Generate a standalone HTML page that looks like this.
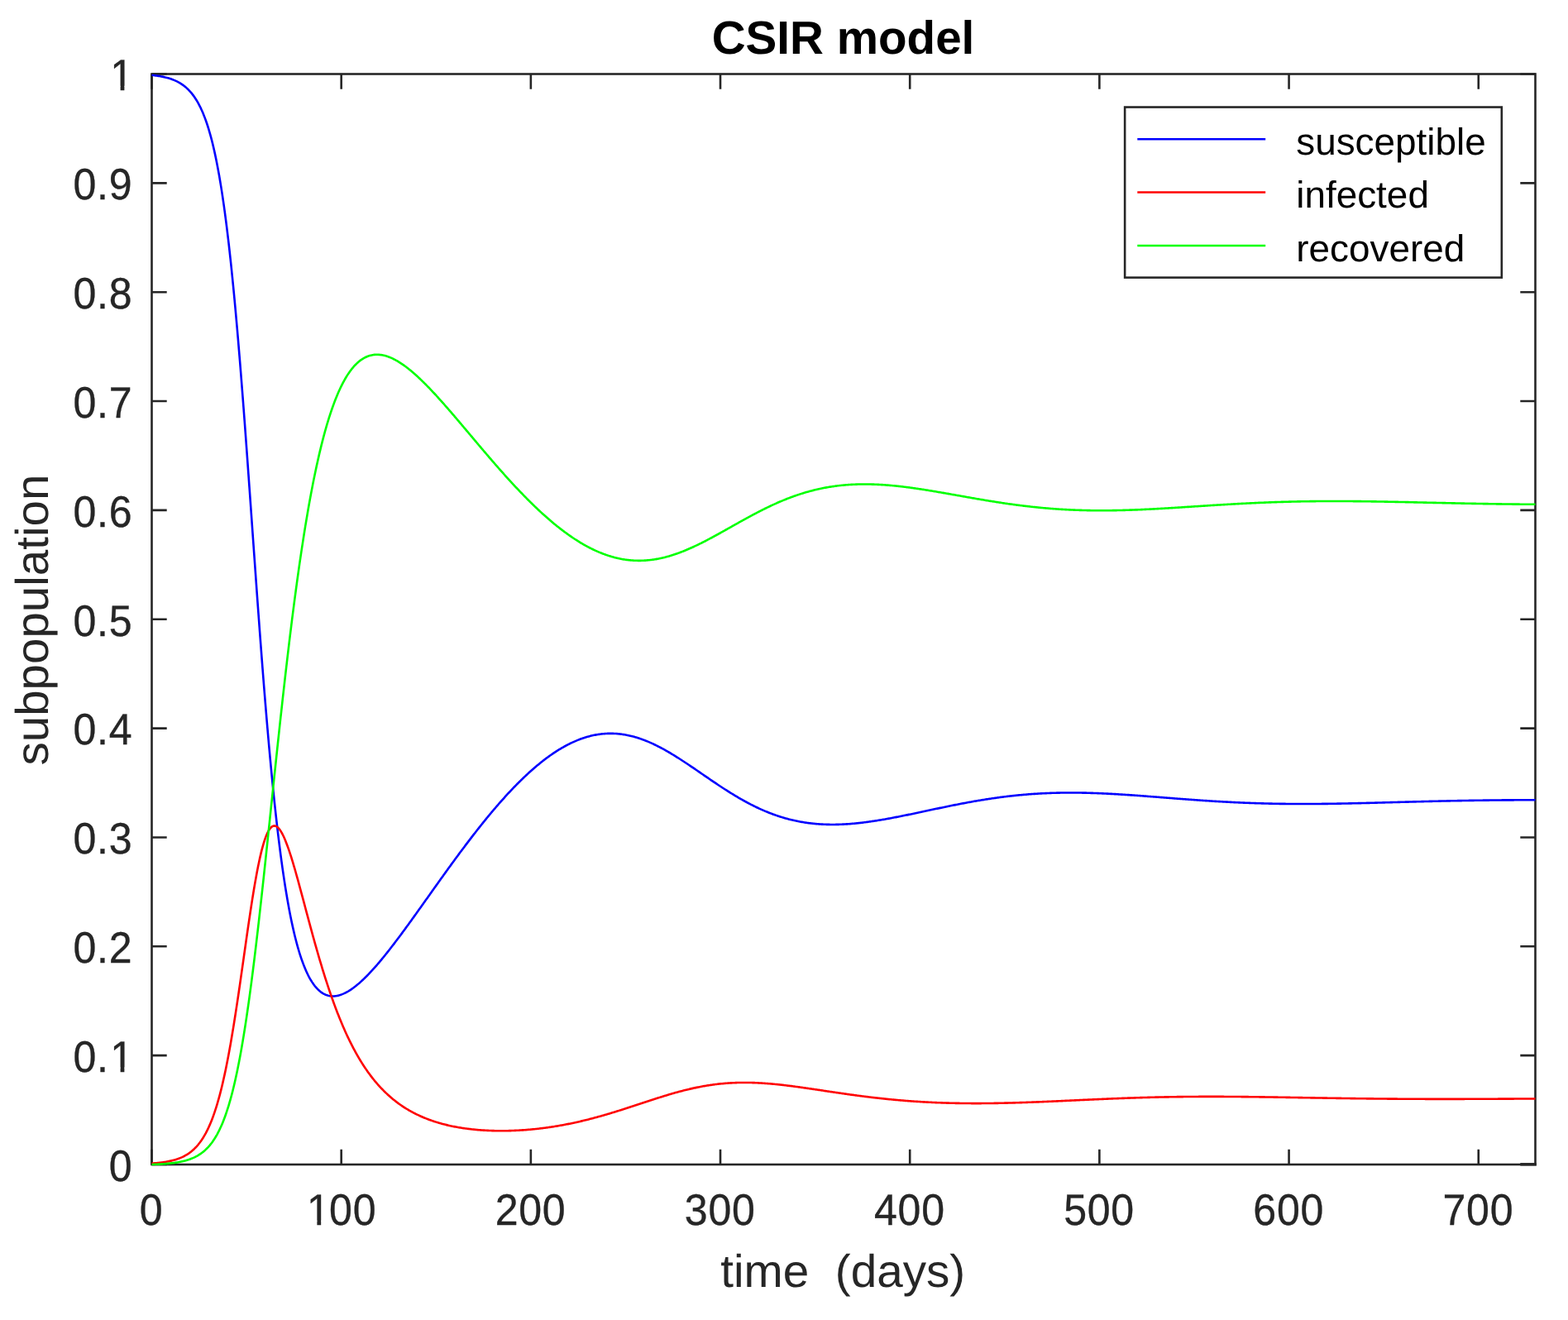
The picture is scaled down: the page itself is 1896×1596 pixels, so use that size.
<!DOCTYPE html>
<html lang="en"><head><meta charset="utf-8"><title>CSIR model</title>
<style>html,body{margin:0;padding:0;background:#fff;}body{width:1896px;height:1596px;overflow:hidden;}svg{display:block;}text{font-family:"Liberation Sans",Arial,Helvetica,sans-serif;text-rendering:geometricPrecision;}</style>
</head><body>
<svg xmlns="http://www.w3.org/2000/svg" width="1896" height="1596" viewBox="0 0 1896 1596">
<rect width="1896" height="1596" fill="#fff"/>
<g stroke="#262626" stroke-width="2.60" fill="none" stroke-linecap="butt">
<rect x="183.50" y="89.50" width="1673.00" height="1318.50"/>
<path stroke-width="2.60" d="M412.68,1408.00v-18.20 M412.68,89.50v18.20 M641.86,1408.00v-18.20 M641.86,89.50v18.20 M871.03,1408.00v-18.20 M871.03,89.50v18.20 M1100.21,1408.00v-18.20 M1100.21,89.50v18.20 M1329.39,1408.00v-18.20 M1329.39,89.50v18.20 M1558.57,1408.00v-18.20 M1558.57,89.50v18.20 M1787.75,1408.00v-18.20 M1787.75,89.50v18.20 M183.50,1276.15h18.20 M1856.50,1276.15h-18.20 M183.50,1144.30h18.20 M1856.50,1144.30h-18.20 M183.50,1012.45h18.20 M1856.50,1012.45h-18.20 M183.50,880.60h18.20 M1856.50,880.60h-18.20 M183.50,748.75h18.20 M1856.50,748.75h-18.20 M183.50,616.90h18.20 M1856.50,616.90h-18.20 M183.50,485.05h18.20 M1856.50,485.05h-18.20 M183.50,353.20h18.20 M1856.50,353.20h-18.20 M183.50,221.35h18.20 M1856.50,221.35h-18.20 M183.50,1408.00v-18.20 M183.50,89.50v18.20 M183.50,89.50h18.20 M1856.50,89.50h-18.20 M183.50,1408.00h18.20"/>
<path stroke-width="3.50" d="M1857.80,1407.80h-19.50"/>
</g>
<defs><clipPath id="c"><rect x="182.90" y="87.50" width="1674.20" height="1322.50"/></clipPath></defs>
<g fill="none" stroke-width="2.60" stroke-linejoin="round" clip-path="url(#c)">
<path stroke="#0000ff" d="M183.50,90.82 L184.65,90.94 L185.79,91.07 L186.94,91.21 L188.08,91.35 L189.23,91.51 L190.38,91.67 L191.52,91.85 L192.67,92.03 L193.81,92.23 L194.96,92.43 L196.10,92.65 L197.25,92.89 L198.40,93.14 L199.54,93.40 L200.69,93.68 L201.83,93.97 L202.98,94.29 L204.13,94.62 L205.27,94.97 L206.42,95.35 L207.56,95.75 L208.71,96.17 L209.86,96.62 L211.00,97.09 L212.15,97.59 L213.29,98.13 L214.44,98.69 L215.58,99.29 L216.73,99.93 L217.88,100.61 L219.02,101.32 L220.17,102.08 L221.31,102.89 L222.46,103.74 L223.61,104.64 L224.75,105.60 L225.90,106.62 L227.04,107.69 L228.19,108.83 L229.34,110.04 L230.48,111.32 L231.63,112.67 L232.77,114.11 L233.92,115.63 L235.07,117.24 L236.21,118.94 L237.36,120.74 L238.50,122.64 L239.65,124.66 L240.79,126.79 L241.94,129.04 L243.09,131.42 L244.23,133.94 L245.38,136.60 L246.52,139.40 L247.67,142.37 L248.82,145.49 L249.96,148.79 L251.11,152.27 L252.25,155.94 L253.40,159.80 L254.55,163.87 L255.69,168.16 L256.84,172.67 L257.98,177.41 L259.13,182.40 L260.27,187.63 L261.42,193.13 L262.57,198.90 L263.71,204.95 L264.86,211.29 L266.00,217.93 L267.15,224.88 L268.30,232.14 L269.44,239.73 L270.59,247.65 L271.73,255.91 L272.88,264.52 L274.03,273.48 L275.17,282.79 L276.32,292.47 L277.46,302.51 L278.61,312.91 L279.75,323.69 L280.90,334.83 L282.05,346.34 L283.19,358.21 L284.34,370.43 L285.48,383.01 L286.63,395.93 L287.78,409.19 L288.92,422.77 L290.07,436.66 L291.21,450.85 L292.36,465.31 L293.51,480.05 L294.65,495.02 L295.80,510.22 L296.94,525.63 L298.09,541.21 L299.23,556.95 L300.38,572.82 L301.53,588.80 L302.67,604.86 L303.82,620.98 L304.96,637.12 L306.11,653.27 L307.26,669.38 L308.40,685.45 L309.55,701.44 L310.69,717.33 L311.84,733.10 L312.99,748.72 L314.13,764.16 L315.28,779.41 L316.42,794.46 L317.57,809.27 L318.72,823.84 L319.86,838.15 L321.01,852.18 L322.15,865.92 L323.30,879.36 L324.44,892.50 L325.59,905.32 L326.74,917.82 L327.88,929.99 L329.03,941.83 L330.17,953.33 L331.32,964.50 L332.47,975.33 L333.61,985.82 L334.76,995.98 L335.90,1005.81 L337.05,1015.31 L338.20,1024.48 L339.34,1033.33 L340.49,1041.87 L341.63,1050.09 L342.78,1058.01 L343.92,1065.63 L345.07,1072.96 L346.22,1080.00 L347.36,1086.76 L348.51,1093.26 L349.65,1099.48 L350.80,1105.45 L351.95,1111.17 L353.09,1116.64 L354.24,1121.88 L355.38,1126.89 L356.53,1131.68 L357.68,1136.25 L358.82,1140.61 L359.97,1144.78 L361.11,1148.74 L362.26,1152.52 L363.40,1156.12 L364.55,1159.54 L365.70,1162.79 L366.84,1165.88 L367.99,1168.81 L369.13,1171.58 L370.28,1174.21 L371.43,1176.69 L372.57,1179.04 L373.72,1181.26 L374.86,1183.34 L376.01,1185.30 L377.16,1187.15 L378.30,1188.87 L379.45,1190.49 L380.59,1192.00 L381.74,1193.40 L382.88,1194.71 L384.03,1195.91 L385.18,1197.03 L386.32,1198.05 L387.47,1198.99 L388.61,1199.84 L389.76,1200.62 L390.91,1201.31 L392.05,1201.93 L393.20,1202.47 L394.34,1202.94 L395.49,1203.35 L396.64,1203.69 L397.78,1203.96 L398.93,1204.18 L400.07,1204.33 L401.22,1204.42 L402.37,1204.46 L403.51,1204.45 L404.66,1204.38 L405.80,1204.26 L406.95,1204.09 L408.09,1203.88 L409.24,1203.62 L410.39,1203.31 L411.53,1202.96 L412.68,1202.57 L413.82,1202.14 L414.97,1201.67 L416.12,1201.16 L417.26,1200.61 L418.41,1200.03 L419.55,1199.41 L420.70,1198.76 L421.85,1198.07 L422.99,1197.35 L424.14,1196.61 L425.28,1195.83 L426.43,1195.02 L427.57,1194.19 L428.72,1193.33 L429.87,1192.44 L431.01,1191.53 L432.16,1190.59 L433.30,1189.63 L434.45,1188.64 L435.60,1187.63 L436.74,1186.60 L437.89,1185.54 L439.03,1184.47 L440.18,1183.38 L441.33,1182.26 L442.47,1181.13 L443.62,1179.98 L444.76,1178.81 L445.91,1177.62 L447.05,1176.42 L448.20,1175.20 L449.35,1173.96 L450.49,1172.71 L451.64,1171.44 L452.78,1170.16 L453.93,1168.86 L455.08,1167.56 L456.22,1166.23 L457.37,1164.90 L458.51,1163.55 L459.66,1162.19 L460.81,1160.82 L461.95,1159.44 L463.10,1158.04 L464.24,1156.64 L465.39,1155.23 L466.53,1153.80 L467.68,1152.37 L468.83,1150.92 L469.97,1149.47 L471.12,1148.01 L472.26,1146.54 L473.41,1145.07 L474.56,1143.58 L475.70,1142.09 L476.85,1140.59 L477.99,1139.08 L479.14,1137.57 L480.29,1136.05 L481.43,1134.53 L482.58,1132.99 L483.72,1131.46 L484.87,1129.92 L486.02,1128.37 L487.16,1126.82 L488.31,1125.26 L489.45,1123.70 L490.60,1122.13 L491.74,1120.56 L492.89,1118.99 L494.04,1117.41 L495.18,1115.83 L496.33,1114.24 L497.47,1112.66 L498.62,1111.07 L499.77,1109.47 L500.91,1107.88 L502.06,1106.28 L503.20,1104.68 L504.35,1103.08 L505.50,1101.48 L506.64,1099.87 L507.79,1098.26 L508.93,1096.66 L510.08,1095.05 L511.22,1093.44 L512.37,1091.83 L513.52,1090.21 L514.66,1088.60 L515.81,1086.99 L516.95,1085.38 L518.10,1083.76 L519.25,1082.15 L520.39,1080.54 L521.54,1078.93 L522.68,1077.31 L523.83,1075.70 L524.98,1074.09 L526.12,1072.48 L527.27,1070.88 L528.41,1069.27 L529.56,1067.66 L530.70,1066.06 L531.85,1064.45 L533.00,1062.85 L534.14,1061.25 L535.29,1059.65 L536.43,1058.06 L537.58,1056.46 L538.73,1054.87 L539.87,1053.28 L541.02,1051.70 L542.16,1050.11 L543.31,1048.53 L544.46,1046.95 L545.60,1045.37 L546.75,1043.80 L547.89,1042.23 L549.04,1040.66 L550.18,1039.10 L551.33,1037.54 L552.48,1035.98 L553.62,1034.43 L554.77,1032.88 L555.91,1031.33 L557.06,1029.79 L558.21,1028.25 L559.35,1026.72 L560.50,1025.19 L561.64,1023.66 L562.79,1022.14 L563.94,1020.62 L565.08,1019.11 L566.23,1017.60 L567.37,1016.10 L568.52,1014.60 L569.67,1013.10 L570.81,1011.61 L571.96,1010.13 L573.10,1008.65 L574.25,1007.18 L575.39,1005.71 L576.54,1004.25 L577.69,1002.79 L578.83,1001.34 L579.98,999.89 L581.12,998.45 L582.27,997.01 L583.42,995.58 L584.56,994.16 L585.71,992.74 L586.85,991.33 L588.00,989.93 L589.15,988.53 L590.29,987.13 L591.44,985.75 L592.58,984.37 L593.73,983.00 L594.87,981.63 L596.02,980.27 L597.17,978.92 L598.31,977.57 L599.46,976.23 L600.60,974.90 L601.75,973.57 L602.90,972.26 L604.04,970.95 L605.19,969.64 L606.33,968.35 L607.48,967.06 L608.63,965.78 L609.77,964.51 L610.92,963.24 L612.06,961.98 L613.21,960.73 L614.35,959.49 L615.50,958.26 L616.65,957.03 L617.79,955.81 L618.94,954.60 L620.08,953.40 L621.23,952.21 L622.38,951.03 L623.52,949.85 L624.67,948.68 L625.81,947.52 L626.96,946.38 L628.11,945.23 L629.25,944.10 L630.40,942.98 L631.54,941.87 L632.69,940.76 L633.83,939.66 L634.98,938.58 L636.13,937.50 L637.27,936.43 L638.42,935.37 L639.56,934.33 L640.71,933.29 L641.86,932.26 L643.00,931.24 L644.15,930.23 L645.29,929.23 L646.44,928.24 L647.59,927.26 L648.73,926.29 L649.88,925.33 L651.02,924.38 L652.17,923.44 L653.32,922.51 L654.46,921.59 L655.61,920.69 L656.75,919.79 L657.90,918.90 L659.04,918.03 L660.19,917.16 L661.34,916.31 L662.48,915.47 L663.63,914.63 L664.77,913.81 L665.92,913.00 L667.07,912.20 L668.21,911.42 L669.36,910.64 L670.50,909.88 L671.65,909.12 L672.80,908.38 L673.94,907.65 L675.09,906.93 L676.23,906.23 L677.38,905.53 L678.52,904.85 L679.67,904.18 L680.82,903.52 L681.96,902.87 L683.11,902.24 L684.25,901.61 L685.40,901.00 L686.55,900.41 L687.69,899.82 L688.84,899.25 L689.98,898.68 L691.13,898.14 L692.28,897.60 L693.42,897.08 L694.57,896.57 L695.71,896.07 L696.86,895.58 L698.00,895.11 L699.15,894.65 L700.30,894.20 L701.44,893.77 L702.59,893.34 L703.73,892.94 L704.88,892.54 L706.03,892.16 L707.17,891.79 L708.32,891.43 L709.46,891.09 L710.61,890.76 L711.76,890.44 L712.90,890.14 L714.05,889.85 L715.19,889.57 L716.34,889.31 L717.48,889.06 L718.63,888.82 L719.78,888.60 L720.92,888.39 L722.07,888.19 L723.21,888.01 L724.36,887.84 L725.51,887.68 L726.65,887.54 L727.80,887.41 L728.94,887.29 L730.09,887.19 L731.24,887.10 L732.38,887.02 L733.53,886.96 L734.67,886.91 L735.82,886.88 L736.97,886.85 L738.11,886.84 L739.26,886.85 L740.40,886.87 L741.55,886.90 L742.69,886.94 L743.84,887.00 L744.99,887.07 L746.13,887.15 L747.28,887.25 L748.42,887.36 L749.57,887.48 L750.72,887.62 L751.86,887.77 L753.01,887.93 L754.15,888.10 L755.30,888.29 L756.45,888.49 L757.59,888.70 L758.74,888.93 L759.88,889.17 L761.03,889.42 L762.17,889.68 L763.32,889.96 L764.47,890.24 L765.61,890.54 L766.76,890.85 L767.90,891.18 L769.05,891.51 L770.20,891.86 L771.34,892.22 L772.49,892.59 L773.63,892.97 L774.78,893.36 L775.93,893.76 L777.07,894.18 L778.22,894.61 L779.36,895.04 L780.51,895.49 L781.65,895.95 L782.80,896.42 L783.95,896.90 L785.09,897.38 L786.24,897.88 L787.38,898.39 L788.53,898.91 L789.68,899.44 L790.82,899.98 L791.97,900.53 L793.11,901.08 L794.26,901.65 L795.41,902.22 L796.55,902.81 L797.70,903.40 L798.84,904.00 L799.99,904.61 L801.13,905.23 L802.28,905.85 L803.43,906.48 L804.57,907.12 L805.72,907.77 L806.86,908.42 L808.01,909.09 L809.16,909.75 L810.30,910.43 L811.45,911.11 L812.59,911.80 L813.74,912.49 L814.89,913.19 L816.03,913.90 L817.18,914.61 L818.32,915.33 L819.47,916.05 L820.62,916.77 L821.76,917.51 L822.91,918.24 L824.05,918.98 L825.20,919.73 L826.34,920.48 L827.49,921.23 L828.64,921.98 L829.78,922.74 L830.93,923.51 L832.07,924.27 L833.22,925.04 L834.37,925.81 L835.51,926.58 L836.66,927.36 L837.80,928.14 L838.95,928.92 L840.10,929.70 L841.24,930.48 L842.39,931.27 L843.53,932.05 L844.68,932.84 L845.82,933.62 L846.97,934.41 L848.12,935.20 L849.26,935.99 L850.41,936.77 L851.55,937.56 L852.70,938.35 L853.85,939.13 L854.99,939.92 L856.14,940.70 L857.28,941.49 L858.43,942.27 L859.58,943.05 L860.72,943.83 L861.87,944.61 L863.01,945.38 L864.16,946.15 L865.30,946.92 L866.45,947.69 L867.60,948.46 L868.74,949.22 L869.89,949.98 L871.03,950.74 L872.18,951.49 L873.33,952.24 L874.47,952.99 L875.62,953.73 L876.76,954.47 L877.91,955.20 L879.06,955.93 L880.20,956.66 L881.35,957.38 L882.49,958.10 L883.64,958.81 L884.78,959.52 L885.93,960.23 L887.08,960.93 L888.22,961.62 L889.37,962.31 L890.51,962.99 L891.66,963.67 L892.81,964.34 L893.95,965.01 L895.10,965.67 L896.24,966.32 L897.39,966.97 L898.54,967.62 L899.68,968.25 L900.83,968.89 L901.97,969.51 L903.12,970.13 L904.27,970.74 L905.41,971.35 L906.56,971.95 L907.70,972.54 L908.85,973.13 L909.99,973.71 L911.14,974.28 L912.29,974.84 L913.43,975.40 L914.58,975.96 L915.72,976.50 L916.87,977.04 L918.02,977.57 L919.16,978.09 L920.31,978.61 L921.45,979.12 L922.60,979.62 L923.75,980.12 L924.89,980.61 L926.04,981.09 L927.18,981.56 L928.33,982.02 L929.47,982.48 L930.62,982.93 L931.77,983.38 L932.91,983.81 L934.06,984.24 L935.20,984.66 L936.35,985.08 L937.50,985.48 L938.64,985.88 L939.79,986.28 L940.93,986.66 L942.08,987.04 L943.23,987.41 L944.37,987.77 L945.52,988.12 L946.66,988.47 L947.81,988.81 L948.95,989.14 L950.10,989.46 L951.25,989.78 L952.39,990.09 L953.54,990.39 L954.68,990.69 L955.83,990.98 L956.98,991.26 L958.12,991.53 L959.27,991.80 L960.41,992.06 L961.56,992.31 L962.71,992.55 L963.85,992.79 L965.00,993.02 L966.14,993.24 L967.29,993.46 L968.43,993.67 L969.58,993.87 L970.73,994.07 L971.87,994.26 L973.02,994.44 L974.16,994.61 L975.31,994.78 L976.46,994.94 L977.60,995.10 L978.75,995.25 L979.89,995.39 L981.04,995.52 L982.19,995.65 L983.33,995.77 L984.48,995.89 L985.62,996.00 L986.77,996.10 L987.92,996.20 L989.06,996.29 L990.21,996.38 L991.35,996.45 L992.50,996.53 L993.64,996.59 L994.79,996.65 L995.94,996.71 L997.08,996.76 L998.23,996.80 L999.37,996.84 L1000.52,996.87 L1001.67,996.90 L1002.81,996.92 L1003.96,996.93 L1005.10,996.94 L1006.25,996.95 L1007.40,996.95 L1008.54,996.94 L1009.69,996.93 L1010.83,996.91 L1011.98,996.89 L1013.12,996.87 L1014.27,996.83 L1015.42,996.80 L1016.56,996.76 L1017.71,996.71 L1018.85,996.66 L1020.00,996.61 L1021.15,996.55 L1022.29,996.48 L1023.44,996.41 L1024.58,996.34 L1025.73,996.26 L1026.88,996.18 L1028.02,996.09 L1029.17,996.00 L1030.31,995.91 L1031.46,995.81 L1032.60,995.71 L1033.75,995.60 L1034.90,995.49 L1036.04,995.38 L1037.19,995.26 L1038.33,995.14 L1039.48,995.01 L1040.63,994.88 L1041.77,994.75 L1042.92,994.61 L1044.06,994.47 L1045.21,994.33 L1046.36,994.19 L1047.50,994.04 L1048.65,993.88 L1049.79,993.73 L1050.94,993.57 L1052.08,993.41 L1053.23,993.24 L1054.38,993.08 L1055.52,992.91 L1056.67,992.73 L1057.81,992.56 L1058.96,992.38 L1060.11,992.20 L1061.25,992.02 L1062.40,991.83 L1063.54,991.64 L1064.69,991.45 L1065.84,991.26 L1066.98,991.06 L1068.13,990.87 L1069.27,990.67 L1070.42,990.46 L1071.57,990.26 L1072.71,990.05 L1073.86,989.85 L1075.00,989.64 L1076.15,989.43 L1077.29,989.21 L1078.44,989.00 L1079.59,988.78 L1080.73,988.56 L1081.88,988.34 L1083.02,988.12 L1084.17,987.90 L1085.32,987.68 L1086.46,987.45 L1087.61,987.22 L1088.75,987.00 L1089.90,986.77 L1091.05,986.54 L1092.19,986.30 L1093.34,986.07 L1094.48,985.84 L1095.63,985.60 L1096.77,985.37 L1097.92,985.13 L1099.07,984.89 L1100.21,984.66 L1101.36,984.42 L1102.50,984.18 L1103.65,983.94 L1104.80,983.70 L1105.94,983.46 L1107.09,983.21 L1108.23,982.97 L1109.38,982.73 L1110.53,982.49 L1111.67,982.24 L1112.82,982.00 L1113.96,981.76 L1115.11,981.51 L1116.25,981.27 L1117.40,981.02 L1118.55,980.78 L1119.69,980.53 L1120.84,980.29 L1121.98,980.04 L1123.13,979.80 L1124.28,979.56 L1125.42,979.31 L1126.57,979.07 L1127.71,978.82 L1128.86,978.58 L1130.01,978.34 L1131.15,978.09 L1132.30,977.85 L1133.44,977.61 L1134.59,977.37 L1135.73,977.13 L1136.88,976.89 L1138.03,976.65 L1139.17,976.41 L1140.32,976.17 L1141.46,975.93 L1142.61,975.69 L1143.76,975.46 L1144.90,975.22 L1146.05,974.99 L1147.19,974.75 L1148.34,974.52 L1149.49,974.29 L1150.63,974.05 L1151.78,973.82 L1152.92,973.59 L1154.07,973.37 L1155.22,973.14 L1156.36,972.91 L1157.51,972.69 L1158.65,972.46 L1159.80,972.24 L1160.94,972.02 L1162.09,971.80 L1163.24,971.58 L1164.38,971.36 L1165.53,971.14 L1166.67,970.92 L1167.82,970.71 L1168.97,970.50 L1170.11,970.29 L1171.26,970.07 L1172.40,969.87 L1173.55,969.66 L1174.70,969.45 L1175.84,969.25 L1176.99,969.05 L1178.13,968.84 L1179.28,968.64 L1180.42,968.45 L1181.57,968.25 L1182.72,968.05 L1183.86,967.86 L1185.01,967.67 L1186.15,967.48 L1187.30,967.29 L1188.45,967.10 L1189.59,966.92 L1190.74,966.74 L1191.88,966.55 L1193.03,966.37 L1194.18,966.20 L1195.32,966.02 L1196.47,965.85 L1197.61,965.67 L1198.76,965.50 L1199.90,965.33 L1201.05,965.17 L1202.20,965.00 L1203.34,964.84 L1204.49,964.68 L1205.63,964.52 L1206.78,964.36 L1207.93,964.21 L1209.07,964.05 L1210.22,963.90 L1211.36,963.75 L1212.51,963.61 L1213.66,963.46 L1214.80,963.32 L1215.95,963.18 L1217.09,963.04 L1218.24,962.90 L1219.38,962.76 L1220.53,962.63 L1221.68,962.50 L1222.82,962.37 L1223.97,962.24 L1225.11,962.12 L1226.26,962.00 L1227.41,961.88 L1228.55,961.76 L1229.70,961.64 L1230.84,961.53 L1231.99,961.41 L1233.14,961.30 L1234.28,961.20 L1235.43,961.09 L1236.57,960.99 L1237.72,960.89 L1238.87,960.79 L1240.01,960.69 L1241.16,960.59 L1242.30,960.50 L1243.45,960.41 L1244.59,960.32 L1245.74,960.23 L1246.89,960.15 L1248.03,960.07 L1249.18,959.99 L1250.32,959.91 L1251.47,959.83 L1252.62,959.76 L1253.76,959.69 L1254.91,959.62 L1256.05,959.55 L1257.20,959.48 L1258.35,959.42 L1259.49,959.36 L1260.64,959.30 L1261.78,959.24 L1262.93,959.19 L1264.07,959.13 L1265.22,959.08 L1266.37,959.03 L1267.51,958.99 L1268.66,958.94 L1269.80,958.90 L1270.95,958.86 L1272.10,958.82 L1273.24,958.78 L1274.39,958.75 L1275.53,958.71 L1276.68,958.68 L1277.83,958.65 L1278.97,958.63 L1280.12,958.60 L1281.26,958.58 L1282.41,958.56 L1283.55,958.54 L1284.70,958.52 L1285.85,958.51 L1286.99,958.49 L1288.14,958.48 L1289.28,958.47 L1290.43,958.46 L1291.58,958.46 L1292.72,958.45 L1293.87,958.45 L1295.01,958.45 L1296.16,958.45 L1297.31,958.45 L1298.45,958.46 L1299.60,958.47 L1300.74,958.47 L1301.89,958.48 L1303.03,958.50 L1304.18,958.51 L1305.33,958.52 L1306.47,958.54 L1307.62,958.56 L1308.76,958.58 L1309.91,958.60 L1311.06,958.62 L1312.20,958.65 L1313.35,958.67 L1314.49,958.70 L1315.64,958.73 L1316.79,958.76 L1317.93,958.79 L1319.08,958.83 L1320.22,958.86 L1321.37,958.90 L1322.52,958.94 L1323.66,958.98 L1324.81,959.02 L1325.95,959.06 L1327.10,959.10 L1328.24,959.15 L1329.39,959.19 L1330.54,959.24 L1331.68,959.29 L1332.83,959.34 L1333.97,959.39 L1335.12,959.44 L1336.27,959.50 L1337.41,959.55 L1338.56,959.61 L1339.70,959.67 L1340.85,959.72 L1342.00,959.78 L1343.14,959.84 L1344.29,959.91 L1345.43,959.97 L1346.58,960.03 L1347.72,960.10 L1348.87,960.16 L1350.02,960.23 L1351.16,960.30 L1352.31,960.36 L1353.45,960.43 L1354.60,960.50 L1355.75,960.58 L1356.89,960.65 L1358.04,960.72 L1359.18,960.79 L1360.33,960.87 L1361.48,960.94 L1362.62,961.02 L1363.77,961.10 L1364.91,961.17 L1366.06,961.25 L1367.20,961.33 L1368.35,961.41 L1369.50,961.49 L1370.64,961.57 L1371.79,961.65 L1372.93,961.73 L1374.08,961.82 L1375.23,961.90 L1376.37,961.98 L1377.52,962.07 L1378.66,962.15 L1379.81,962.23 L1380.96,962.32 L1382.10,962.40 L1383.25,962.49 L1384.39,962.58 L1385.54,962.66 L1386.68,962.75 L1387.83,962.84 L1388.98,962.93 L1390.12,963.01 L1391.27,963.10 L1392.41,963.19 L1393.56,963.28 L1394.71,963.37 L1395.85,963.46 L1397.00,963.55 L1398.14,963.64 L1399.29,963.73 L1400.44,963.81 L1401.58,963.90 L1402.73,963.99 L1403.87,964.08 L1405.02,964.17 L1406.17,964.26 L1407.31,964.35 L1408.46,964.44 L1409.60,964.53 L1410.75,964.62 L1411.89,964.71 L1413.04,964.80 L1414.19,964.89 L1415.33,964.98 L1416.48,965.07 L1417.62,965.16 L1418.77,965.25 L1419.92,965.34 L1421.06,965.43 L1422.21,965.52 L1423.35,965.61 L1424.50,965.69 L1425.65,965.78 L1426.79,965.87 L1427.94,965.96 L1429.08,966.04 L1430.23,966.13 L1431.37,966.22 L1432.52,966.30 L1433.67,966.39 L1434.81,966.48 L1435.96,966.56 L1437.10,966.65 L1438.25,966.73 L1439.40,966.82 L1440.54,966.90 L1441.69,966.98 L1442.83,967.06 L1443.98,967.15 L1445.13,967.23 L1446.27,967.31 L1447.42,967.39 L1448.56,967.47 L1449.71,967.55 L1450.85,967.63 L1452.00,967.71 L1453.15,967.79 L1454.29,967.87 L1455.44,967.94 L1456.58,968.02 L1457.73,968.10 L1458.88,968.17 L1460.02,968.25 L1461.17,968.32 L1462.31,968.40 L1463.46,968.47 L1464.61,968.54 L1465.75,968.61 L1466.90,968.69 L1468.04,968.76 L1469.19,968.83 L1470.33,968.90 L1471.48,968.96 L1472.63,969.03 L1473.77,969.10 L1474.92,969.17 L1476.06,969.23 L1477.21,969.30 L1478.36,969.36 L1479.50,969.43 L1480.65,969.49 L1481.79,969.55 L1482.94,969.61 L1484.09,969.67 L1485.23,969.74 L1486.38,969.79 L1487.52,969.85 L1488.67,969.91 L1489.82,969.97 L1490.96,970.03 L1492.11,970.08 L1493.25,970.14 L1494.40,970.19 L1495.54,970.24 L1496.69,970.30 L1497.84,970.35 L1498.98,970.40 L1500.13,970.45 L1501.27,970.50 L1502.42,970.55 L1503.57,970.60 L1504.71,970.64 L1505.86,970.69 L1507.00,970.73 L1508.15,970.78 L1509.30,970.82 L1510.44,970.87 L1511.59,970.91 L1512.73,970.95 L1513.88,970.99 L1515.02,971.03 L1516.17,971.07 L1517.32,971.11 L1518.46,971.15 L1519.61,971.18 L1520.75,971.22 L1521.90,971.25 L1523.05,971.29 L1524.19,971.32 L1525.34,971.35 L1526.48,971.39 L1527.63,971.42 L1528.78,971.45 L1529.92,971.48 L1531.07,971.51 L1532.21,971.53 L1533.36,971.56 L1534.50,971.59 L1535.65,971.61 L1536.80,971.64 L1537.94,971.66 L1539.09,971.68 L1540.23,971.71 L1541.38,971.73 L1542.53,971.75 L1543.67,971.77 L1544.82,971.79 L1545.96,971.81 L1547.11,971.83 L1548.26,971.84 L1549.40,971.86 L1550.55,971.87 L1551.69,971.89 L1552.84,971.90 L1553.98,971.92 L1555.13,971.93 L1556.28,971.94 L1557.42,971.95 L1558.57,971.96 L1559.71,971.97 L1560.86,971.98 L1562.01,971.99 L1563.15,972.00 L1564.30,972.01 L1565.44,972.01 L1566.59,972.02 L1567.74,972.02 L1568.88,972.03 L1570.03,972.03 L1571.17,972.03 L1572.32,972.04 L1573.47,972.04 L1574.61,972.04 L1575.76,972.04 L1576.90,972.04 L1578.05,972.04 L1579.19,972.03 L1580.34,972.03 L1581.49,972.03 L1582.63,972.03 L1583.78,972.02 L1584.92,972.02 L1586.07,972.01 L1587.22,972.01 L1588.36,972.00 L1589.51,971.99 L1590.65,971.99 L1591.80,971.98 L1592.95,971.97 L1594.09,971.96 L1595.24,971.95 L1596.38,971.94 L1597.53,971.93 L1598.67,971.92 L1599.82,971.91 L1600.97,971.89 L1602.11,971.88 L1603.26,971.87 L1604.40,971.85 L1605.55,971.84 L1606.70,971.82 L1607.84,971.81 L1608.99,971.79 L1610.13,971.78 L1611.28,971.76 L1612.43,971.74 L1613.57,971.72 L1614.72,971.71 L1615.86,971.69 L1617.01,971.67 L1618.15,971.65 L1619.30,971.63 L1620.45,971.61 L1621.59,971.59 L1622.74,971.57 L1623.88,971.55 L1625.03,971.53 L1626.18,971.51 L1627.32,971.48 L1628.47,971.46 L1629.61,971.44 L1630.76,971.41 L1631.91,971.39 L1633.05,971.37 L1634.20,971.34 L1635.34,971.32 L1636.49,971.29 L1637.63,971.27 L1638.78,971.24 L1639.93,971.22 L1641.07,971.19 L1642.22,971.16 L1643.36,971.14 L1644.51,971.11 L1645.66,971.08 L1646.80,971.06 L1647.95,971.03 L1649.09,971.00 L1650.24,970.98 L1651.39,970.95 L1652.53,970.92 L1653.68,970.89 L1654.82,970.86 L1655.97,970.83 L1657.12,970.80 L1658.26,970.78 L1659.41,970.75 L1660.55,970.72 L1661.70,970.69 L1662.84,970.66 L1663.99,970.63 L1665.14,970.60 L1666.28,970.57 L1667.43,970.54 L1668.57,970.51 L1669.72,970.48 L1670.87,970.45 L1672.01,970.42 L1673.16,970.38 L1674.30,970.35 L1675.45,970.32 L1676.60,970.29 L1677.74,970.26 L1678.89,970.23 L1680.03,970.20 L1681.18,970.17 L1682.32,970.14 L1683.47,970.11 L1684.62,970.07 L1685.76,970.04 L1686.91,970.01 L1688.05,969.98 L1689.20,969.95 L1690.35,969.92 L1691.49,969.89 L1692.64,969.86 L1693.78,969.82 L1694.93,969.79 L1696.08,969.76 L1697.22,969.73 L1698.37,969.70 L1699.51,969.67 L1700.66,969.64 L1701.80,969.61 L1702.95,969.58 L1704.10,969.55 L1705.24,969.52 L1706.39,969.48 L1707.53,969.45 L1708.68,969.42 L1709.83,969.39 L1710.97,969.36 L1712.12,969.33 L1713.26,969.30 L1714.41,969.27 L1715.56,969.24 L1716.70,969.21 L1717.85,969.18 L1718.99,969.15 L1720.14,969.13 L1721.28,969.10 L1722.43,969.07 L1723.58,969.04 L1724.72,969.01 L1725.87,968.98 L1727.01,968.95 L1728.16,968.92 L1729.31,968.90 L1730.45,968.87 L1731.60,968.84 L1732.74,968.81 L1733.89,968.78 L1735.04,968.76 L1736.18,968.73 L1737.33,968.70 L1738.47,968.68 L1739.62,968.65 L1740.77,968.62 L1741.91,968.60 L1743.06,968.57 L1744.20,968.55 L1745.35,968.52 L1746.49,968.50 L1747.64,968.47 L1748.79,968.45 L1749.93,968.42 L1751.08,968.40 L1752.22,968.37 L1753.37,968.35 L1754.52,968.32 L1755.66,968.30 L1756.81,968.28 L1757.95,968.25 L1759.10,968.23 L1760.25,968.21 L1761.39,968.19 L1762.54,968.16 L1763.68,968.14 L1764.83,968.12 L1765.97,968.10 L1767.12,968.08 L1768.27,968.06 L1769.41,968.04 L1770.56,968.02 L1771.70,968.00 L1772.85,967.98 L1774.00,967.96 L1775.14,967.94 L1776.29,967.92 L1777.43,967.90 L1778.58,967.88 L1779.73,967.86 L1780.87,967.85 L1782.02,967.83 L1783.16,967.81 L1784.31,967.79 L1785.45,967.78 L1786.60,967.76 L1787.75,967.74 L1788.89,967.73 L1790.04,967.71 L1791.18,967.70 L1792.33,967.68 L1793.48,967.66 L1794.62,967.65 L1795.77,967.64 L1796.91,967.62 L1798.06,967.61 L1799.21,967.59 L1800.35,967.58 L1801.50,967.57 L1802.64,967.55 L1803.79,967.54 L1804.93,967.53 L1806.08,967.52 L1807.23,967.51 L1808.37,967.49 L1809.52,967.48 L1810.66,967.47 L1811.81,967.46 L1812.96,967.45 L1814.10,967.44 L1815.25,967.43 L1816.39,967.42 L1817.54,967.41 L1818.69,967.40 L1819.83,967.40 L1820.98,967.39 L1822.12,967.38 L1823.27,967.37 L1824.42,967.36 L1825.56,967.36 L1826.71,967.35 L1827.85,967.34 L1829.00,967.34 L1830.14,967.33 L1831.29,967.32 L1832.44,967.32 L1833.58,967.31 L1834.73,967.31 L1835.87,967.30 L1837.02,967.30 L1838.17,967.29 L1839.31,967.29 L1840.46,967.28 L1841.60,967.28 L1842.75,967.28 L1843.90,967.27 L1845.04,967.27 L1846.19,967.27 L1847.33,967.26 L1848.48,967.26 L1849.62,967.26 L1850.77,967.26 L1851.92,967.26 L1853.06,967.26 L1854.21,967.25 L1855.35,967.25 L1856.50,967.25"/>
<path stroke="#ff0000" d="M183.50,1406.68 L184.65,1406.60 L185.79,1406.51 L186.94,1406.42 L188.08,1406.32 L189.23,1406.22 L190.38,1406.11 L191.52,1406.00 L192.67,1405.87 L193.81,1405.74 L194.96,1405.60 L196.10,1405.45 L197.25,1405.30 L198.40,1405.13 L199.54,1404.95 L200.69,1404.77 L201.83,1404.57 L202.98,1404.36 L204.13,1404.13 L205.27,1403.89 L206.42,1403.64 L207.56,1403.37 L208.71,1403.09 L209.86,1402.79 L211.00,1402.47 L212.15,1402.13 L213.29,1401.77 L214.44,1401.39 L215.58,1400.99 L216.73,1400.56 L217.88,1400.10 L219.02,1399.62 L220.17,1399.11 L221.31,1398.57 L222.46,1397.99 L223.61,1397.39 L224.75,1396.74 L225.90,1396.06 L227.04,1395.34 L228.19,1394.57 L229.34,1393.76 L230.48,1392.90 L231.63,1391.99 L232.77,1391.03 L233.92,1390.01 L235.07,1388.93 L236.21,1387.79 L237.36,1386.59 L238.50,1385.32 L239.65,1383.97 L240.79,1382.55 L241.94,1381.04 L243.09,1379.45 L244.23,1377.78 L245.38,1376.01 L246.52,1374.14 L247.67,1372.18 L248.82,1370.10 L249.96,1367.92 L251.11,1365.62 L252.25,1363.19 L253.40,1360.64 L254.55,1357.96 L255.69,1355.14 L256.84,1352.19 L257.98,1349.08 L259.13,1345.82 L260.27,1342.40 L261.42,1338.83 L262.57,1335.08 L263.71,1331.16 L264.86,1327.07 L266.00,1322.80 L267.15,1318.34 L268.30,1313.69 L269.44,1308.86 L270.59,1303.83 L271.73,1298.60 L272.88,1293.19 L274.03,1287.57 L275.17,1281.76 L276.32,1275.75 L277.46,1269.55 L278.61,1263.17 L279.75,1256.59 L280.90,1249.84 L282.05,1242.91 L283.19,1235.82 L284.34,1228.57 L285.48,1221.17 L286.63,1213.64 L287.78,1205.99 L288.92,1198.22 L290.07,1190.36 L291.21,1182.43 L292.36,1174.43 L293.51,1166.39 L294.65,1158.32 L295.80,1150.25 L296.94,1142.20 L298.09,1134.19 L299.23,1126.24 L300.38,1118.37 L301.53,1110.60 L302.67,1102.96 L303.82,1095.46 L304.96,1088.14 L306.11,1081.00 L307.26,1074.07 L308.40,1067.37 L309.55,1060.92 L310.69,1054.72 L311.84,1048.81 L312.99,1043.18 L314.13,1037.87 L315.28,1032.86 L316.42,1028.18 L317.57,1023.84 L318.72,1019.84 L319.86,1016.18 L321.01,1012.86 L322.15,1009.90 L323.30,1007.29 L324.44,1005.02 L325.59,1003.11 L326.74,1001.53 L327.88,1000.29 L329.03,999.38 L330.17,998.80 L331.32,998.53 L332.47,998.58 L333.61,998.91 L334.76,999.54 L335.90,1000.44 L337.05,1001.61 L338.20,1003.04 L339.34,1004.70 L340.49,1006.60 L341.63,1008.72 L342.78,1011.04 L343.92,1013.57 L345.07,1016.27 L346.22,1019.15 L347.36,1022.19 L348.51,1025.37 L349.65,1028.70 L350.80,1032.15 L351.95,1035.72 L353.09,1039.40 L354.24,1043.17 L355.38,1047.04 L356.53,1050.98 L357.68,1054.99 L358.82,1059.06 L359.97,1063.18 L361.11,1067.35 L362.26,1071.56 L363.40,1075.80 L364.55,1080.07 L365.70,1084.35 L366.84,1088.65 L367.99,1092.96 L369.13,1097.27 L370.28,1101.57 L371.43,1105.87 L372.57,1110.16 L373.72,1114.43 L374.86,1118.68 L376.01,1122.91 L377.16,1127.12 L378.30,1131.30 L379.45,1135.44 L380.59,1139.56 L381.74,1143.63 L382.88,1147.67 L384.03,1151.67 L385.18,1155.63 L386.32,1159.54 L387.47,1163.42 L388.61,1167.24 L389.76,1171.02 L390.91,1174.75 L392.05,1178.43 L393.20,1182.07 L394.34,1185.65 L395.49,1189.18 L396.64,1192.66 L397.78,1196.10 L398.93,1199.48 L400.07,1202.80 L401.22,1206.08 L402.37,1209.31 L403.51,1212.48 L404.66,1215.61 L405.80,1218.68 L406.95,1221.70 L408.09,1224.67 L409.24,1227.59 L410.39,1230.46 L411.53,1233.28 L412.68,1236.05 L413.82,1238.78 L414.97,1241.45 L416.12,1244.08 L417.26,1246.66 L418.41,1249.19 L419.55,1251.68 L420.70,1254.12 L421.85,1256.52 L422.99,1258.87 L424.14,1261.17 L425.28,1263.44 L426.43,1265.66 L427.57,1267.84 L428.72,1269.98 L429.87,1272.08 L431.01,1274.14 L432.16,1276.15 L433.30,1278.13 L434.45,1280.07 L435.60,1281.98 L436.74,1283.84 L437.89,1285.67 L439.03,1287.47 L440.18,1289.23 L441.33,1290.95 L442.47,1292.64 L443.62,1294.30 L444.76,1295.93 L445.91,1297.52 L447.05,1299.08 L448.20,1300.61 L449.35,1302.11 L450.49,1303.58 L451.64,1305.02 L452.78,1306.44 L453.93,1307.82 L455.08,1309.18 L456.22,1310.51 L457.37,1311.81 L458.51,1313.08 L459.66,1314.34 L460.81,1315.56 L461.95,1316.76 L463.10,1317.94 L464.24,1319.09 L465.39,1320.22 L466.53,1321.33 L467.68,1322.42 L468.83,1323.48 L469.97,1324.52 L471.12,1325.54 L472.26,1326.54 L473.41,1327.52 L474.56,1328.48 L475.70,1329.42 L476.85,1330.34 L477.99,1331.25 L479.14,1332.13 L480.29,1333.00 L481.43,1333.85 L482.58,1334.68 L483.72,1335.49 L484.87,1336.29 L486.02,1337.07 L487.16,1337.84 L488.31,1338.59 L489.45,1339.33 L490.60,1340.05 L491.74,1340.75 L492.89,1341.44 L494.04,1342.12 L495.18,1342.78 L496.33,1343.43 L497.47,1344.07 L498.62,1344.69 L499.77,1345.30 L500.91,1345.90 L502.06,1346.48 L503.20,1347.05 L504.35,1347.61 L505.50,1348.16 L506.64,1348.70 L507.79,1349.23 L508.93,1349.74 L510.08,1350.25 L511.22,1350.74 L512.37,1351.22 L513.52,1351.70 L514.66,1352.16 L515.81,1352.61 L516.95,1353.05 L518.10,1353.49 L519.25,1353.91 L520.39,1354.33 L521.54,1354.73 L522.68,1355.13 L523.83,1355.52 L524.98,1355.90 L526.12,1356.27 L527.27,1356.63 L528.41,1356.99 L529.56,1357.33 L530.70,1357.67 L531.85,1358.00 L533.00,1358.33 L534.14,1358.64 L535.29,1358.95 L536.43,1359.25 L537.58,1359.55 L538.73,1359.84 L539.87,1360.12 L541.02,1360.39 L542.16,1360.66 L543.31,1360.92 L544.46,1361.17 L545.60,1361.42 L546.75,1361.66 L547.89,1361.90 L549.04,1362.13 L550.18,1362.35 L551.33,1362.57 L552.48,1362.78 L553.62,1362.98 L554.77,1363.18 L555.91,1363.38 L557.06,1363.56 L558.21,1363.75 L559.35,1363.93 L560.50,1364.10 L561.64,1364.27 L562.79,1364.43 L563.94,1364.58 L565.08,1364.74 L566.23,1364.88 L567.37,1365.03 L568.52,1365.16 L569.67,1365.29 L570.81,1365.42 L571.96,1365.55 L573.10,1365.66 L574.25,1365.78 L575.39,1365.89 L576.54,1365.99 L577.69,1366.09 L578.83,1366.19 L579.98,1366.28 L581.12,1366.37 L582.27,1366.45 L583.42,1366.53 L584.56,1366.60 L585.71,1366.67 L586.85,1366.74 L588.00,1366.80 L589.15,1366.86 L590.29,1366.91 L591.44,1366.96 L592.58,1367.01 L593.73,1367.05 L594.87,1367.09 L596.02,1367.13 L597.17,1367.16 L598.31,1367.18 L599.46,1367.21 L600.60,1367.23 L601.75,1367.24 L602.90,1367.26 L604.04,1367.26 L605.19,1367.27 L606.33,1367.27 L607.48,1367.27 L608.63,1367.26 L609.77,1367.25 L610.92,1367.24 L612.06,1367.22 L613.21,1367.20 L614.35,1367.18 L615.50,1367.15 L616.65,1367.12 L617.79,1367.09 L618.94,1367.05 L620.08,1367.01 L621.23,1366.97 L622.38,1366.92 L623.52,1366.87 L624.67,1366.82 L625.81,1366.76 L626.96,1366.70 L628.11,1366.63 L629.25,1366.57 L630.40,1366.50 L631.54,1366.42 L632.69,1366.35 L633.83,1366.27 L634.98,1366.18 L636.13,1366.09 L637.27,1366.00 L638.42,1365.91 L639.56,1365.81 L640.71,1365.71 L641.86,1365.61 L643.00,1365.50 L644.15,1365.39 L645.29,1365.28 L646.44,1365.17 L647.59,1365.05 L648.73,1364.92 L649.88,1364.80 L651.02,1364.67 L652.17,1364.54 L653.32,1364.40 L654.46,1364.26 L655.61,1364.12 L656.75,1363.98 L657.90,1363.83 L659.04,1363.68 L660.19,1363.52 L661.34,1363.37 L662.48,1363.21 L663.63,1363.04 L664.77,1362.87 L665.92,1362.70 L667.07,1362.53 L668.21,1362.36 L669.36,1362.18 L670.50,1361.99 L671.65,1361.81 L672.80,1361.62 L673.94,1361.43 L675.09,1361.23 L676.23,1361.03 L677.38,1360.83 L678.52,1360.63 L679.67,1360.42 L680.82,1360.21 L681.96,1360.00 L683.11,1359.78 L684.25,1359.56 L685.40,1359.34 L686.55,1359.11 L687.69,1358.88 L688.84,1358.65 L689.98,1358.42 L691.13,1358.18 L692.28,1357.94 L693.42,1357.69 L694.57,1357.45 L695.71,1357.20 L696.86,1356.95 L698.00,1356.69 L699.15,1356.43 L700.30,1356.17 L701.44,1355.91 L702.59,1355.64 L703.73,1355.37 L704.88,1355.10 L706.03,1354.82 L707.17,1354.54 L708.32,1354.26 L709.46,1353.98 L710.61,1353.69 L711.76,1353.40 L712.90,1353.11 L714.05,1352.81 L715.19,1352.51 L716.34,1352.21 L717.48,1351.91 L718.63,1351.61 L719.78,1351.30 L720.92,1350.99 L722.07,1350.67 L723.21,1350.36 L724.36,1350.04 L725.51,1349.72 L726.65,1349.40 L727.80,1349.07 L728.94,1348.75 L730.09,1348.42 L731.24,1348.08 L732.38,1347.75 L733.53,1347.41 L734.67,1347.08 L735.82,1346.74 L736.97,1346.39 L738.11,1346.05 L739.26,1345.70 L740.40,1345.35 L741.55,1345.00 L742.69,1344.65 L743.84,1344.30 L744.99,1343.94 L746.13,1343.59 L747.28,1343.23 L748.42,1342.87 L749.57,1342.51 L750.72,1342.14 L751.86,1341.78 L753.01,1341.41 L754.15,1341.05 L755.30,1340.68 L756.45,1340.31 L757.59,1339.94 L758.74,1339.57 L759.88,1339.20 L761.03,1338.82 L762.17,1338.45 L763.32,1338.08 L764.47,1337.70 L765.61,1337.33 L766.76,1336.95 L767.90,1336.57 L769.05,1336.19 L770.20,1335.82 L771.34,1335.44 L772.49,1335.06 L773.63,1334.68 L774.78,1334.31 L775.93,1333.93 L777.07,1333.55 L778.22,1333.17 L779.36,1332.80 L780.51,1332.42 L781.65,1332.04 L782.80,1331.67 L783.95,1331.29 L785.09,1330.92 L786.24,1330.54 L787.38,1330.17 L788.53,1329.80 L789.68,1329.43 L790.82,1329.06 L791.97,1328.69 L793.11,1328.32 L794.26,1327.95 L795.41,1327.59 L796.55,1327.23 L797.70,1326.87 L798.84,1326.51 L799.99,1326.15 L801.13,1325.79 L802.28,1325.44 L803.43,1325.09 L804.57,1324.74 L805.72,1324.39 L806.86,1324.04 L808.01,1323.70 L809.16,1323.36 L810.30,1323.02 L811.45,1322.69 L812.59,1322.35 L813.74,1322.02 L814.89,1321.70 L816.03,1321.37 L817.18,1321.05 L818.32,1320.73 L819.47,1320.42 L820.62,1320.10 L821.76,1319.80 L822.91,1319.49 L824.05,1319.19 L825.20,1318.89 L826.34,1318.60 L827.49,1318.30 L828.64,1318.02 L829.78,1317.73 L830.93,1317.45 L832.07,1317.18 L833.22,1316.90 L834.37,1316.64 L835.51,1316.37 L836.66,1316.11 L837.80,1315.86 L838.95,1315.60 L840.10,1315.36 L841.24,1315.11 L842.39,1314.87 L843.53,1314.64 L844.68,1314.41 L845.82,1314.18 L846.97,1313.96 L848.12,1313.75 L849.26,1313.53 L850.41,1313.33 L851.55,1313.12 L852.70,1312.93 L853.85,1312.73 L854.99,1312.54 L856.14,1312.36 L857.28,1312.18 L858.43,1312.01 L859.58,1311.84 L860.72,1311.67 L861.87,1311.51 L863.01,1311.36 L864.16,1311.21 L865.30,1311.06 L866.45,1310.92 L867.60,1310.79 L868.74,1310.66 L869.89,1310.53 L871.03,1310.41 L872.18,1310.29 L873.33,1310.18 L874.47,1310.08 L875.62,1309.98 L876.76,1309.88 L877.91,1309.79 L879.06,1309.70 L880.20,1309.62 L881.35,1309.54 L882.49,1309.47 L883.64,1309.40 L884.78,1309.34 L885.93,1309.28 L887.08,1309.23 L888.22,1309.18 L889.37,1309.14 L890.51,1309.10 L891.66,1309.06 L892.81,1309.03 L893.95,1309.00 L895.10,1308.98 L896.24,1308.97 L897.39,1308.95 L898.54,1308.95 L899.68,1308.94 L900.83,1308.94 L901.97,1308.95 L903.12,1308.96 L904.27,1308.97 L905.41,1308.99 L906.56,1309.01 L907.70,1309.03 L908.85,1309.06 L909.99,1309.10 L911.14,1309.13 L912.29,1309.17 L913.43,1309.22 L914.58,1309.27 L915.72,1309.32 L916.87,1309.37 L918.02,1309.43 L919.16,1309.50 L920.31,1309.56 L921.45,1309.63 L922.60,1309.71 L923.75,1309.78 L924.89,1309.86 L926.04,1309.94 L927.18,1310.03 L928.33,1310.12 L929.47,1310.21 L930.62,1310.30 L931.77,1310.40 L932.91,1310.50 L934.06,1310.61 L935.20,1310.71 L936.35,1310.82 L937.50,1310.93 L938.64,1311.05 L939.79,1311.16 L940.93,1311.28 L942.08,1311.40 L943.23,1311.53 L944.37,1311.65 L945.52,1311.78 L946.66,1311.91 L947.81,1312.04 L948.95,1312.17 L950.10,1312.31 L951.25,1312.45 L952.39,1312.59 L953.54,1312.73 L954.68,1312.87 L955.83,1313.02 L956.98,1313.16 L958.12,1313.31 L959.27,1313.46 L960.41,1313.61 L961.56,1313.77 L962.71,1313.92 L963.85,1314.07 L965.00,1314.23 L966.14,1314.39 L967.29,1314.55 L968.43,1314.71 L969.58,1314.87 L970.73,1315.03 L971.87,1315.19 L973.02,1315.36 L974.16,1315.52 L975.31,1315.69 L976.46,1315.85 L977.60,1316.02 L978.75,1316.19 L979.89,1316.35 L981.04,1316.52 L982.19,1316.69 L983.33,1316.86 L984.48,1317.03 L985.62,1317.20 L986.77,1317.37 L987.92,1317.54 L989.06,1317.71 L990.21,1317.88 L991.35,1318.06 L992.50,1318.23 L993.64,1318.40 L994.79,1318.57 L995.94,1318.74 L997.08,1318.92 L998.23,1319.09 L999.37,1319.26 L1000.52,1319.43 L1001.67,1319.60 L1002.81,1319.77 L1003.96,1319.94 L1005.10,1320.11 L1006.25,1320.29 L1007.40,1320.46 L1008.54,1320.63 L1009.69,1320.79 L1010.83,1320.96 L1011.98,1321.13 L1013.12,1321.30 L1014.27,1321.47 L1015.42,1321.63 L1016.56,1321.80 L1017.71,1321.97 L1018.85,1322.13 L1020.00,1322.30 L1021.15,1322.46 L1022.29,1322.63 L1023.44,1322.79 L1024.58,1322.95 L1025.73,1323.11 L1026.88,1323.27 L1028.02,1323.43 L1029.17,1323.59 L1030.31,1323.75 L1031.46,1323.91 L1032.60,1324.06 L1033.75,1324.22 L1034.90,1324.37 L1036.04,1324.53 L1037.19,1324.68 L1038.33,1324.83 L1039.48,1324.98 L1040.63,1325.13 L1041.77,1325.28 L1042.92,1325.43 L1044.06,1325.57 L1045.21,1325.72 L1046.36,1325.86 L1047.50,1326.01 L1048.65,1326.15 L1049.79,1326.29 L1050.94,1326.43 L1052.08,1326.57 L1053.23,1326.71 L1054.38,1326.84 L1055.52,1326.98 L1056.67,1327.11 L1057.81,1327.25 L1058.96,1327.38 L1060.11,1327.51 L1061.25,1327.64 L1062.40,1327.77 L1063.54,1327.90 L1064.69,1328.02 L1065.84,1328.15 L1066.98,1328.27 L1068.13,1328.39 L1069.27,1328.51 L1070.42,1328.63 L1071.57,1328.75 L1072.71,1328.87 L1073.86,1328.98 L1075.00,1329.10 L1076.15,1329.21 L1077.29,1329.32 L1078.44,1329.43 L1079.59,1329.54 L1080.73,1329.65 L1081.88,1329.76 L1083.02,1329.86 L1084.17,1329.97 L1085.32,1330.07 L1086.46,1330.17 L1087.61,1330.27 L1088.75,1330.37 L1089.90,1330.47 L1091.05,1330.56 L1092.19,1330.66 L1093.34,1330.75 L1094.48,1330.84 L1095.63,1330.93 L1096.77,1331.02 L1097.92,1331.11 L1099.07,1331.20 L1100.21,1331.28 L1101.36,1331.37 L1102.50,1331.45 L1103.65,1331.53 L1104.80,1331.61 L1105.94,1331.69 L1107.09,1331.77 L1108.23,1331.84 L1109.38,1331.92 L1110.53,1331.99 L1111.67,1332.06 L1112.82,1332.13 L1113.96,1332.20 L1115.11,1332.27 L1116.25,1332.34 L1117.40,1332.40 L1118.55,1332.47 L1119.69,1332.53 L1120.84,1332.59 L1121.98,1332.65 L1123.13,1332.71 L1124.28,1332.77 L1125.42,1332.82 L1126.57,1332.88 L1127.71,1332.93 L1128.86,1332.98 L1130.01,1333.03 L1131.15,1333.08 L1132.30,1333.13 L1133.44,1333.18 L1134.59,1333.22 L1135.73,1333.27 L1136.88,1333.31 L1138.03,1333.35 L1139.17,1333.40 L1140.32,1333.44 L1141.46,1333.47 L1142.61,1333.51 L1143.76,1333.55 L1144.90,1333.58 L1146.05,1333.61 L1147.19,1333.65 L1148.34,1333.68 L1149.49,1333.71 L1150.63,1333.74 L1151.78,1333.76 L1152.92,1333.79 L1154.07,1333.82 L1155.22,1333.84 L1156.36,1333.86 L1157.51,1333.88 L1158.65,1333.91 L1159.80,1333.92 L1160.94,1333.94 L1162.09,1333.96 L1163.24,1333.98 L1164.38,1333.99 L1165.53,1334.01 L1166.67,1334.02 L1167.82,1334.03 L1168.97,1334.04 L1170.11,1334.05 L1171.26,1334.06 L1172.40,1334.07 L1173.55,1334.07 L1174.70,1334.08 L1175.84,1334.08 L1176.99,1334.09 L1178.13,1334.09 L1179.28,1334.09 L1180.42,1334.09 L1181.57,1334.09 L1182.72,1334.09 L1183.86,1334.08 L1185.01,1334.08 L1186.15,1334.08 L1187.30,1334.07 L1188.45,1334.06 L1189.59,1334.06 L1190.74,1334.05 L1191.88,1334.04 L1193.03,1334.03 L1194.18,1334.02 L1195.32,1334.00 L1196.47,1333.99 L1197.61,1333.98 L1198.76,1333.96 L1199.90,1333.95 L1201.05,1333.93 L1202.20,1333.91 L1203.34,1333.90 L1204.49,1333.88 L1205.63,1333.86 L1206.78,1333.84 L1207.93,1333.81 L1209.07,1333.79 L1210.22,1333.77 L1211.36,1333.75 L1212.51,1333.72 L1213.66,1333.70 L1214.80,1333.67 L1215.95,1333.64 L1217.09,1333.62 L1218.24,1333.59 L1219.38,1333.56 L1220.53,1333.53 L1221.68,1333.50 L1222.82,1333.47 L1223.97,1333.44 L1225.11,1333.41 L1226.26,1333.37 L1227.41,1333.34 L1228.55,1333.31 L1229.70,1333.27 L1230.84,1333.24 L1231.99,1333.20 L1233.14,1333.16 L1234.28,1333.13 L1235.43,1333.09 L1236.57,1333.05 L1237.72,1333.01 L1238.87,1332.97 L1240.01,1332.93 L1241.16,1332.89 L1242.30,1332.85 L1243.45,1332.81 L1244.59,1332.77 L1245.74,1332.73 L1246.89,1332.68 L1248.03,1332.64 L1249.18,1332.60 L1250.32,1332.55 L1251.47,1332.51 L1252.62,1332.46 L1253.76,1332.42 L1254.91,1332.37 L1256.05,1332.33 L1257.20,1332.28 L1258.35,1332.23 L1259.49,1332.19 L1260.64,1332.14 L1261.78,1332.09 L1262.93,1332.04 L1264.07,1331.99 L1265.22,1331.95 L1266.37,1331.90 L1267.51,1331.85 L1268.66,1331.80 L1269.80,1331.75 L1270.95,1331.70 L1272.10,1331.65 L1273.24,1331.60 L1274.39,1331.55 L1275.53,1331.49 L1276.68,1331.44 L1277.83,1331.39 L1278.97,1331.34 L1280.12,1331.29 L1281.26,1331.24 L1282.41,1331.18 L1283.55,1331.13 L1284.70,1331.08 L1285.85,1331.03 L1286.99,1330.97 L1288.14,1330.92 L1289.28,1330.87 L1290.43,1330.82 L1291.58,1330.76 L1292.72,1330.71 L1293.87,1330.66 L1295.01,1330.60 L1296.16,1330.55 L1297.31,1330.50 L1298.45,1330.45 L1299.60,1330.39 L1300.74,1330.34 L1301.89,1330.29 L1303.03,1330.23 L1304.18,1330.18 L1305.33,1330.13 L1306.47,1330.07 L1307.62,1330.02 L1308.76,1329.97 L1309.91,1329.91 L1311.06,1329.86 L1312.20,1329.81 L1313.35,1329.76 L1314.49,1329.70 L1315.64,1329.65 L1316.79,1329.60 L1317.93,1329.55 L1319.08,1329.50 L1320.22,1329.44 L1321.37,1329.39 L1322.52,1329.34 L1323.66,1329.29 L1324.81,1329.24 L1325.95,1329.19 L1327.10,1329.14 L1328.24,1329.09 L1329.39,1329.04 L1330.54,1328.99 L1331.68,1328.94 L1332.83,1328.89 L1333.97,1328.84 L1335.12,1328.79 L1336.27,1328.74 L1337.41,1328.69 L1338.56,1328.64 L1339.70,1328.60 L1340.85,1328.55 L1342.00,1328.50 L1343.14,1328.45 L1344.29,1328.41 L1345.43,1328.36 L1346.58,1328.31 L1347.72,1328.27 L1348.87,1328.22 L1350.02,1328.18 L1351.16,1328.13 L1352.31,1328.09 L1353.45,1328.04 L1354.60,1328.00 L1355.75,1327.96 L1356.89,1327.91 L1358.04,1327.87 L1359.18,1327.83 L1360.33,1327.79 L1361.48,1327.74 L1362.62,1327.70 L1363.77,1327.66 L1364.91,1327.62 L1366.06,1327.58 L1367.20,1327.54 L1368.35,1327.50 L1369.50,1327.46 L1370.64,1327.43 L1371.79,1327.39 L1372.93,1327.35 L1374.08,1327.31 L1375.23,1327.28 L1376.37,1327.24 L1377.52,1327.20 L1378.66,1327.17 L1379.81,1327.13 L1380.96,1327.10 L1382.10,1327.07 L1383.25,1327.03 L1384.39,1327.00 L1385.54,1326.97 L1386.68,1326.94 L1387.83,1326.90 L1388.98,1326.87 L1390.12,1326.84 L1391.27,1326.81 L1392.41,1326.78 L1393.56,1326.75 L1394.71,1326.72 L1395.85,1326.70 L1397.00,1326.67 L1398.14,1326.64 L1399.29,1326.61 L1400.44,1326.59 L1401.58,1326.56 L1402.73,1326.54 L1403.87,1326.51 L1405.02,1326.49 L1406.17,1326.46 L1407.31,1326.44 L1408.46,1326.42 L1409.60,1326.40 L1410.75,1326.37 L1411.89,1326.35 L1413.04,1326.33 L1414.19,1326.31 L1415.33,1326.29 L1416.48,1326.27 L1417.62,1326.25 L1418.77,1326.23 L1419.92,1326.22 L1421.06,1326.20 L1422.21,1326.18 L1423.35,1326.17 L1424.50,1326.15 L1425.65,1326.13 L1426.79,1326.12 L1427.94,1326.11 L1429.08,1326.09 L1430.23,1326.08 L1431.37,1326.06 L1432.52,1326.05 L1433.67,1326.04 L1434.81,1326.03 L1435.96,1326.02 L1437.10,1326.01 L1438.25,1326.00 L1439.40,1325.99 L1440.54,1325.98 L1441.69,1325.97 L1442.83,1325.96 L1443.98,1325.95 L1445.13,1325.95 L1446.27,1325.94 L1447.42,1325.93 L1448.56,1325.93 L1449.71,1325.92 L1450.85,1325.92 L1452.00,1325.91 L1453.15,1325.91 L1454.29,1325.90 L1455.44,1325.90 L1456.58,1325.90 L1457.73,1325.89 L1458.88,1325.89 L1460.02,1325.89 L1461.17,1325.89 L1462.31,1325.89 L1463.46,1325.89 L1464.61,1325.89 L1465.75,1325.89 L1466.90,1325.89 L1468.04,1325.89 L1469.19,1325.89 L1470.33,1325.89 L1471.48,1325.90 L1472.63,1325.90 L1473.77,1325.90 L1474.92,1325.91 L1476.06,1325.91 L1477.21,1325.91 L1478.36,1325.92 L1479.50,1325.92 L1480.65,1325.93 L1481.79,1325.94 L1482.94,1325.94 L1484.09,1325.95 L1485.23,1325.95 L1486.38,1325.96 L1487.52,1325.97 L1488.67,1325.98 L1489.82,1325.99 L1490.96,1325.99 L1492.11,1326.00 L1493.25,1326.01 L1494.40,1326.02 L1495.54,1326.03 L1496.69,1326.04 L1497.84,1326.05 L1498.98,1326.06 L1500.13,1326.07 L1501.27,1326.08 L1502.42,1326.09 L1503.57,1326.11 L1504.71,1326.12 L1505.86,1326.13 L1507.00,1326.14 L1508.15,1326.15 L1509.30,1326.17 L1510.44,1326.18 L1511.59,1326.19 L1512.73,1326.21 L1513.88,1326.22 L1515.02,1326.23 L1516.17,1326.25 L1517.32,1326.26 L1518.46,1326.28 L1519.61,1326.29 L1520.75,1326.31 L1521.90,1326.32 L1523.05,1326.34 L1524.19,1326.35 L1525.34,1326.37 L1526.48,1326.39 L1527.63,1326.40 L1528.78,1326.42 L1529.92,1326.44 L1531.07,1326.45 L1532.21,1326.47 L1533.36,1326.49 L1534.50,1326.50 L1535.65,1326.52 L1536.80,1326.54 L1537.94,1326.55 L1539.09,1326.57 L1540.23,1326.59 L1541.38,1326.61 L1542.53,1326.63 L1543.67,1326.64 L1544.82,1326.66 L1545.96,1326.68 L1547.11,1326.70 L1548.26,1326.72 L1549.40,1326.74 L1550.55,1326.76 L1551.69,1326.77 L1552.84,1326.79 L1553.98,1326.81 L1555.13,1326.83 L1556.28,1326.85 L1557.42,1326.87 L1558.57,1326.89 L1559.71,1326.91 L1560.86,1326.93 L1562.01,1326.95 L1563.15,1326.96 L1564.30,1326.98 L1565.44,1327.00 L1566.59,1327.02 L1567.74,1327.04 L1568.88,1327.06 L1570.03,1327.08 L1571.17,1327.10 L1572.32,1327.12 L1573.47,1327.14 L1574.61,1327.16 L1575.76,1327.18 L1576.90,1327.20 L1578.05,1327.22 L1579.19,1327.24 L1580.34,1327.26 L1581.49,1327.28 L1582.63,1327.30 L1583.78,1327.32 L1584.92,1327.33 L1586.07,1327.35 L1587.22,1327.37 L1588.36,1327.39 L1589.51,1327.41 L1590.65,1327.43 L1591.80,1327.45 L1592.95,1327.47 L1594.09,1327.49 L1595.24,1327.51 L1596.38,1327.53 L1597.53,1327.55 L1598.67,1327.56 L1599.82,1327.58 L1600.97,1327.60 L1602.11,1327.62 L1603.26,1327.64 L1604.40,1327.66 L1605.55,1327.68 L1606.70,1327.69 L1607.84,1327.71 L1608.99,1327.73 L1610.13,1327.75 L1611.28,1327.77 L1612.43,1327.78 L1613.57,1327.80 L1614.72,1327.82 L1615.86,1327.84 L1617.01,1327.85 L1618.15,1327.87 L1619.30,1327.89 L1620.45,1327.91 L1621.59,1327.92 L1622.74,1327.94 L1623.88,1327.96 L1625.03,1327.97 L1626.18,1327.99 L1627.32,1328.01 L1628.47,1328.02 L1629.61,1328.04 L1630.76,1328.05 L1631.91,1328.07 L1633.05,1328.08 L1634.20,1328.10 L1635.34,1328.12 L1636.49,1328.13 L1637.63,1328.15 L1638.78,1328.16 L1639.93,1328.18 L1641.07,1328.19 L1642.22,1328.21 L1643.36,1328.22 L1644.51,1328.23 L1645.66,1328.25 L1646.80,1328.26 L1647.95,1328.28 L1649.09,1328.29 L1650.24,1328.30 L1651.39,1328.32 L1652.53,1328.33 L1653.68,1328.34 L1654.82,1328.36 L1655.97,1328.37 L1657.12,1328.38 L1658.26,1328.39 L1659.41,1328.41 L1660.55,1328.42 L1661.70,1328.43 L1662.84,1328.44 L1663.99,1328.45 L1665.14,1328.47 L1666.28,1328.48 L1667.43,1328.49 L1668.57,1328.50 L1669.72,1328.51 L1670.87,1328.52 L1672.01,1328.53 L1673.16,1328.54 L1674.30,1328.55 L1675.45,1328.56 L1676.60,1328.57 L1677.74,1328.58 L1678.89,1328.59 L1680.03,1328.60 L1681.18,1328.61 L1682.32,1328.62 L1683.47,1328.63 L1684.62,1328.63 L1685.76,1328.64 L1686.91,1328.65 L1688.05,1328.66 L1689.20,1328.67 L1690.35,1328.68 L1691.49,1328.68 L1692.64,1328.69 L1693.78,1328.70 L1694.93,1328.70 L1696.08,1328.71 L1697.22,1328.72 L1698.37,1328.72 L1699.51,1328.73 L1700.66,1328.74 L1701.80,1328.74 L1702.95,1328.75 L1704.10,1328.76 L1705.24,1328.76 L1706.39,1328.77 L1707.53,1328.77 L1708.68,1328.78 L1709.83,1328.78 L1710.97,1328.79 L1712.12,1328.79 L1713.26,1328.80 L1714.41,1328.80 L1715.56,1328.80 L1716.70,1328.81 L1717.85,1328.81 L1718.99,1328.81 L1720.14,1328.82 L1721.28,1328.82 L1722.43,1328.82 L1723.58,1328.83 L1724.72,1328.83 L1725.87,1328.83 L1727.01,1328.84 L1728.16,1328.84 L1729.31,1328.84 L1730.45,1328.84 L1731.60,1328.84 L1732.74,1328.85 L1733.89,1328.85 L1735.04,1328.85 L1736.18,1328.85 L1737.33,1328.85 L1738.47,1328.85 L1739.62,1328.85 L1740.77,1328.85 L1741.91,1328.85 L1743.06,1328.86 L1744.20,1328.86 L1745.35,1328.86 L1746.49,1328.86 L1747.64,1328.86 L1748.79,1328.86 L1749.93,1328.86 L1751.08,1328.85 L1752.22,1328.85 L1753.37,1328.85 L1754.52,1328.85 L1755.66,1328.85 L1756.81,1328.85 L1757.95,1328.85 L1759.10,1328.85 L1760.25,1328.85 L1761.39,1328.84 L1762.54,1328.84 L1763.68,1328.84 L1764.83,1328.84 L1765.97,1328.84 L1767.12,1328.83 L1768.27,1328.83 L1769.41,1328.83 L1770.56,1328.83 L1771.70,1328.82 L1772.85,1328.82 L1774.00,1328.82 L1775.14,1328.82 L1776.29,1328.81 L1777.43,1328.81 L1778.58,1328.81 L1779.73,1328.80 L1780.87,1328.80 L1782.02,1328.80 L1783.16,1328.79 L1784.31,1328.79 L1785.45,1328.78 L1786.60,1328.78 L1787.75,1328.78 L1788.89,1328.77 L1790.04,1328.77 L1791.18,1328.76 L1792.33,1328.76 L1793.48,1328.75 L1794.62,1328.75 L1795.77,1328.75 L1796.91,1328.74 L1798.06,1328.74 L1799.21,1328.73 L1800.35,1328.73 L1801.50,1328.72 L1802.64,1328.72 L1803.79,1328.71 L1804.93,1328.71 L1806.08,1328.70 L1807.23,1328.70 L1808.37,1328.69 L1809.52,1328.68 L1810.66,1328.68 L1811.81,1328.67 L1812.96,1328.67 L1814.10,1328.66 L1815.25,1328.66 L1816.39,1328.65 L1817.54,1328.64 L1818.69,1328.64 L1819.83,1328.63 L1820.98,1328.63 L1822.12,1328.62 L1823.27,1328.61 L1824.42,1328.61 L1825.56,1328.60 L1826.71,1328.60 L1827.85,1328.59 L1829.00,1328.58 L1830.14,1328.58 L1831.29,1328.57 L1832.44,1328.56 L1833.58,1328.56 L1834.73,1328.55 L1835.87,1328.54 L1837.02,1328.54 L1838.17,1328.53 L1839.31,1328.53 L1840.46,1328.52 L1841.60,1328.51 L1842.75,1328.51 L1843.90,1328.50 L1845.04,1328.49 L1846.19,1328.49 L1847.33,1328.48 L1848.48,1328.47 L1849.62,1328.47 L1850.77,1328.46 L1851.92,1328.45 L1853.06,1328.45 L1854.21,1328.44 L1855.35,1328.43 L1856.50,1328.42"/>
<path stroke="#00ff00" d="M183.50,1408.00 L184.65,1407.96 L185.79,1407.92 L186.94,1407.87 L188.08,1407.82 L189.23,1407.77 L190.38,1407.72 L191.52,1407.66 L192.67,1407.60 L193.81,1407.53 L194.96,1407.47 L196.10,1407.39 L197.25,1407.32 L198.40,1407.23 L199.54,1407.15 L200.69,1407.06 L201.83,1406.96 L202.98,1406.86 L204.13,1406.75 L205.27,1406.63 L206.42,1406.51 L207.56,1406.38 L208.71,1406.24 L209.86,1406.10 L211.00,1405.94 L212.15,1405.78 L213.29,1405.60 L214.44,1405.42 L215.58,1405.22 L216.73,1405.01 L217.88,1404.79 L219.02,1404.56 L220.17,1404.31 L221.31,1404.05 L222.46,1403.77 L223.61,1403.47 L224.75,1403.16 L225.90,1402.82 L227.04,1402.47 L228.19,1402.10 L229.34,1401.70 L230.48,1401.28 L231.63,1400.83 L232.77,1400.36 L233.92,1399.86 L235.07,1399.33 L236.21,1398.77 L237.36,1398.17 L238.50,1397.54 L239.65,1396.87 L240.79,1396.17 L241.94,1395.42 L243.09,1394.62 L244.23,1393.78 L245.38,1392.89 L246.52,1391.95 L247.67,1390.96 L248.82,1389.91 L249.96,1388.79 L251.11,1387.61 L252.25,1386.37 L253.40,1385.05 L254.55,1383.66 L255.69,1382.20 L256.84,1380.65 L257.98,1379.01 L259.13,1377.28 L260.27,1375.46 L261.42,1373.54 L262.57,1371.52 L263.71,1369.38 L264.86,1367.14 L266.00,1364.77 L267.15,1362.28 L268.30,1359.66 L269.44,1356.91 L270.59,1354.02 L271.73,1350.98 L272.88,1347.80 L274.03,1344.45 L275.17,1340.95 L276.32,1337.28 L277.46,1333.44 L278.61,1329.42 L279.75,1325.22 L280.90,1320.83 L282.05,1316.25 L283.19,1311.47 L284.34,1306.50 L285.48,1301.32 L286.63,1295.93 L287.78,1290.33 L288.92,1284.51 L290.07,1278.48 L291.21,1272.23 L292.36,1265.76 L293.51,1259.07 L294.65,1252.16 L295.80,1245.02 L296.94,1237.67 L298.09,1230.10 L299.23,1222.31 L300.38,1214.31 L301.53,1206.09 L302.67,1197.68 L303.82,1189.06 L304.96,1180.24 L306.11,1171.23 L307.26,1162.04 L308.40,1152.68 L309.55,1143.14 L310.69,1133.44 L311.84,1123.59 L312.99,1113.60 L314.13,1103.47 L315.28,1093.22 L316.42,1082.86 L317.57,1072.39 L318.72,1061.83 L319.86,1051.18 L321.01,1040.46 L322.15,1029.68 L323.30,1018.85 L324.44,1007.98 L325.59,997.07 L326.74,986.15 L327.88,975.22 L329.03,964.29 L330.17,953.37 L331.32,942.47 L332.47,931.60 L333.61,920.76 L334.76,909.98 L335.90,899.25 L337.05,888.58 L338.20,877.98 L339.34,867.46 L340.49,857.03 L341.63,846.69 L342.78,836.44 L343.92,826.30 L345.07,816.27 L346.22,806.35 L347.36,796.55 L348.51,786.87 L349.65,777.32 L350.80,767.90 L351.95,758.61 L353.09,749.46 L354.24,740.45 L355.38,731.58 L356.53,722.85 L357.68,714.27 L358.82,705.83 L359.97,697.54 L361.11,689.40 L362.26,681.42 L363.40,673.58 L364.55,665.89 L365.70,658.35 L366.84,650.97 L367.99,643.74 L369.13,636.65 L370.28,629.72 L371.43,622.94 L372.57,616.30 L373.72,609.81 L374.86,603.48 L376.01,597.28 L377.16,591.23 L378.30,585.33 L379.45,579.57 L380.59,573.95 L381.74,568.47 L382.88,563.12 L384.03,557.91 L385.18,552.84 L386.32,547.90 L387.47,543.09 L388.61,538.42 L389.76,533.87 L390.91,529.44 L392.05,525.14 L393.20,520.96 L394.34,516.91 L395.49,512.97 L396.64,509.15 L397.78,505.44 L398.93,501.85 L400.07,498.37 L401.22,494.99 L402.37,491.73 L403.51,488.57 L404.66,485.51 L405.80,482.56 L406.95,479.71 L408.09,476.95 L409.24,474.29 L410.39,471.73 L411.53,469.26 L412.68,466.88 L413.82,464.59 L414.97,462.38 L416.12,460.27 L417.26,458.23 L418.41,456.28 L419.55,454.41 L420.70,452.63 L421.85,450.91 L422.99,449.28 L424.14,447.72 L425.28,446.23 L426.43,444.81 L427.57,443.47 L428.72,442.19 L429.87,440.98 L431.01,439.84 L432.16,438.76 L433.30,437.74 L434.45,436.79 L435.60,435.89 L436.74,435.06 L437.89,434.28 L439.03,433.56 L440.18,432.90 L441.33,432.28 L442.47,431.73 L443.62,431.22 L444.76,430.76 L445.91,430.36 L447.05,430.00 L448.20,429.69 L449.35,429.43 L450.49,429.21 L451.64,429.04 L452.78,428.90 L453.93,428.82 L455.08,428.77 L456.22,428.76 L457.37,428.79 L458.51,428.86 L459.66,428.97 L460.81,429.12 L461.95,429.30 L463.10,429.52 L464.24,429.77 L465.39,430.05 L466.53,430.37 L467.68,430.72 L468.83,431.10 L469.97,431.51 L471.12,431.95 L472.26,432.41 L473.41,432.91 L474.56,433.44 L475.70,433.99 L476.85,434.57 L477.99,435.17 L479.14,435.80 L480.29,436.45 L481.43,437.13 L482.58,437.83 L483.72,438.55 L484.87,439.29 L486.02,440.06 L487.16,440.84 L488.31,441.65 L489.45,442.48 L490.60,443.32 L491.74,444.19 L492.89,445.07 L494.04,445.97 L495.18,446.89 L496.33,447.83 L497.47,448.78 L498.62,449.74 L499.77,450.73 L500.91,451.73 L502.06,452.74 L503.20,453.77 L504.35,454.81 L505.50,455.86 L506.64,456.93 L507.79,458.01 L508.93,459.10 L510.08,460.21 L511.22,461.32 L512.37,462.45 L513.52,463.59 L514.66,464.74 L515.81,465.90 L516.95,467.07 L518.10,468.25 L519.25,469.44 L520.39,470.63 L521.54,471.84 L522.68,473.06 L523.83,474.28 L524.98,475.51 L526.12,476.75 L527.27,477.99 L528.41,479.25 L529.56,480.50 L530.70,481.77 L531.85,483.04 L533.00,484.32 L534.14,485.60 L535.29,486.89 L536.43,488.19 L537.58,489.49 L538.73,490.79 L539.87,492.10 L541.02,493.41 L542.16,494.73 L543.31,496.05 L544.46,497.38 L545.60,498.71 L546.75,500.04 L547.89,501.37 L549.04,502.71 L550.18,504.05 L551.33,505.40 L552.48,506.74 L553.62,508.09 L554.77,509.44 L555.91,510.79 L557.06,512.15 L558.21,513.50 L559.35,514.86 L560.50,516.22 L561.64,517.58 L562.79,518.93 L563.94,520.30 L565.08,521.66 L566.23,523.02 L567.37,524.38 L568.52,525.74 L569.67,527.10 L570.81,528.46 L571.96,529.82 L573.10,531.19 L574.25,532.55 L575.39,533.90 L576.54,535.26 L577.69,536.62 L578.83,537.98 L579.98,539.33 L581.12,540.69 L582.27,542.04 L583.42,543.39 L584.56,544.74 L585.71,546.08 L586.85,547.43 L588.00,548.77 L589.15,550.11 L590.29,551.45 L591.44,552.79 L592.58,554.12 L593.73,555.45 L594.87,556.78 L596.02,558.10 L597.17,559.43 L598.31,560.74 L599.46,562.06 L600.60,563.37 L601.75,564.68 L602.90,565.99 L604.04,567.29 L605.19,568.59 L606.33,569.88 L607.48,571.17 L608.63,572.46 L609.77,573.74 L610.92,575.02 L612.06,576.29 L613.21,577.56 L614.35,578.83 L615.50,580.09 L616.65,581.34 L617.79,582.60 L618.94,583.84 L620.08,585.08 L621.23,586.32 L622.38,587.55 L623.52,588.78 L624.67,590.00 L625.81,591.22 L626.96,592.43 L628.11,593.63 L629.25,594.83 L630.40,596.02 L631.54,597.21 L632.69,598.39 L633.83,599.57 L634.98,600.74 L636.13,601.90 L637.27,603.06 L638.42,604.21 L639.56,605.36 L640.71,606.50 L641.86,607.63 L643.00,608.76 L644.15,609.88 L645.29,610.99 L646.44,612.10 L647.59,613.20 L648.73,614.29 L649.88,615.37 L651.02,616.45 L652.17,617.52 L653.32,618.59 L654.46,619.64 L655.61,620.69 L656.75,621.73 L657.90,622.77 L659.04,623.80 L660.19,624.81 L661.34,625.83 L662.48,626.83 L663.63,627.83 L664.77,628.81 L665.92,629.79 L667.07,630.76 L668.21,631.73 L669.36,632.68 L670.50,633.63 L671.65,634.57 L672.80,635.50 L673.94,636.42 L675.09,637.33 L676.23,638.24 L677.38,639.14 L678.52,640.02 L679.67,640.90 L680.82,641.77 L681.96,642.63 L683.11,643.48 L684.25,644.32 L685.40,645.16 L686.55,645.98 L687.69,646.80 L688.84,647.60 L689.98,648.40 L691.13,649.18 L692.28,649.96 L693.42,650.73 L694.57,651.49 L695.71,652.24 L696.86,652.97 L698.00,653.70 L699.15,654.42 L700.30,655.13 L701.44,655.83 L702.59,656.52 L703.73,657.20 L704.88,657.86 L706.03,658.52 L707.17,659.17 L708.32,659.81 L709.46,660.43 L710.61,661.05 L711.76,661.66 L712.90,662.25 L714.05,662.84 L715.19,663.41 L716.34,663.98 L717.48,664.53 L718.63,665.07 L719.78,665.60 L720.92,666.12 L722.07,666.63 L723.21,667.13 L724.36,667.62 L725.51,668.10 L726.65,668.56 L727.80,669.02 L728.94,669.46 L730.09,669.89 L731.24,670.32 L732.38,670.73 L733.53,671.12 L734.67,671.51 L735.82,671.89 L736.97,672.25 L738.11,672.61 L739.26,672.95 L740.40,673.28 L741.55,673.60 L742.69,673.91 L743.84,674.20 L744.99,674.49 L746.13,674.76 L747.28,675.02 L748.42,675.27 L749.57,675.51 L750.72,675.74 L751.86,675.95 L753.01,676.16 L754.15,676.35 L755.30,676.53 L756.45,676.70 L757.59,676.85 L758.74,677.00 L759.88,677.13 L761.03,677.26 L762.17,677.37 L763.32,677.47 L764.47,677.56 L765.61,677.63 L766.76,677.70 L767.90,677.75 L769.05,677.79 L770.20,677.82 L771.34,677.84 L772.49,677.85 L773.63,677.85 L774.78,677.83 L775.93,677.81 L777.07,677.77 L778.22,677.72 L779.36,677.66 L780.51,677.59 L781.65,677.51 L782.80,677.42 L783.95,677.31 L785.09,677.20 L786.24,677.07 L787.38,676.94 L788.53,676.79 L789.68,676.63 L790.82,676.46 L791.97,676.28 L793.11,676.10 L794.26,675.90 L795.41,675.69 L796.55,675.46 L797.70,675.23 L798.84,674.99 L799.99,674.74 L801.13,674.48 L802.28,674.21 L803.43,673.93 L804.57,673.64 L805.72,673.34 L806.86,673.03 L808.01,672.71 L809.16,672.39 L810.30,672.05 L811.45,671.70 L812.59,671.35 L813.74,670.98 L814.89,670.61 L816.03,670.23 L817.18,669.84 L818.32,669.44 L819.47,669.04 L820.62,668.62 L821.76,668.20 L822.91,667.77 L824.05,667.33 L825.20,666.88 L826.34,666.43 L827.49,665.97 L828.64,665.50 L829.78,665.02 L830.93,664.54 L832.07,664.05 L833.22,663.56 L834.37,663.05 L835.51,662.54 L836.66,662.03 L837.80,661.51 L838.95,660.98 L840.10,660.44 L841.24,659.91 L842.39,659.36 L843.53,658.81 L844.68,658.25 L845.82,657.69 L846.97,657.13 L848.12,656.56 L849.26,655.98 L850.41,655.40 L851.55,654.82 L852.70,654.23 L853.85,653.63 L854.99,653.04 L856.14,652.44 L857.28,651.83 L858.43,651.22 L859.58,650.61 L860.72,650.00 L861.87,649.38 L863.01,648.76 L864.16,648.14 L865.30,647.51 L866.45,646.89 L867.60,646.26 L868.74,645.62 L869.89,644.99 L871.03,644.35 L872.18,643.72 L873.33,643.08 L874.47,642.44 L875.62,641.79 L876.76,641.15 L877.91,640.51 L879.06,639.86 L880.20,639.22 L881.35,638.57 L882.49,637.93 L883.64,637.28 L884.78,636.64 L885.93,635.99 L887.08,635.35 L888.22,634.70 L889.37,634.06 L890.51,633.41 L891.66,632.77 L892.81,632.13 L893.95,631.49 L895.10,630.85 L896.24,630.21 L897.39,629.57 L898.54,628.94 L899.68,628.30 L900.83,627.67 L901.97,627.04 L903.12,626.41 L904.27,625.79 L905.41,625.17 L906.56,624.54 L907.70,623.93 L908.85,623.31 L909.99,622.70 L911.14,622.09 L912.29,621.48 L913.43,620.88 L914.58,620.28 L915.72,619.68 L916.87,619.09 L918.02,618.50 L919.16,617.91 L920.31,617.33 L921.45,616.75 L922.60,616.17 L923.75,615.60 L924.89,615.03 L926.04,614.47 L927.18,613.91 L928.33,613.36 L929.47,612.81 L930.62,612.26 L931.77,611.72 L932.91,611.18 L934.06,610.65 L935.20,610.12 L936.35,609.60 L937.50,609.08 L938.64,608.57 L939.79,608.06 L940.93,607.56 L942.08,607.06 L943.23,606.57 L944.37,606.08 L945.52,605.60 L946.66,605.12 L947.81,604.65 L948.95,604.19 L950.10,603.73 L951.25,603.27 L952.39,602.82 L953.54,602.38 L954.68,601.94 L955.83,601.51 L956.98,601.08 L958.12,600.66 L959.27,600.24 L960.41,599.83 L961.56,599.43 L962.71,599.03 L963.85,598.64 L965.00,598.25 L966.14,597.87 L967.29,597.49 L968.43,597.12 L969.58,596.76 L970.73,596.40 L971.87,596.05 L973.02,595.71 L974.16,595.37 L975.31,595.03 L976.46,594.71 L977.60,594.38 L978.75,594.07 L979.89,593.76 L981.04,593.46 L982.19,593.16 L983.33,592.87 L984.48,592.58 L985.62,592.30 L986.77,592.03 L987.92,591.76 L989.06,591.50 L990.21,591.24 L991.35,590.99 L992.50,590.75 L993.64,590.51 L994.79,590.27 L995.94,590.05 L997.08,589.83 L998.23,589.61 L999.37,589.40 L1000.52,589.20 L1001.67,589.00 L1002.81,588.81 L1003.96,588.62 L1005.10,588.44 L1006.25,588.27 L1007.40,588.10 L1008.54,587.93 L1009.69,587.78 L1010.83,587.62 L1011.98,587.48 L1013.12,587.33 L1014.27,587.20 L1015.42,587.07 L1016.56,586.94 L1017.71,586.82 L1018.85,586.71 L1020.00,586.60 L1021.15,586.49 L1022.29,586.39 L1023.44,586.30 L1024.58,586.21 L1025.73,586.13 L1026.88,586.05 L1028.02,585.98 L1029.17,585.91 L1030.31,585.84 L1031.46,585.78 L1032.60,585.73 L1033.75,585.68 L1034.90,585.64 L1036.04,585.60 L1037.19,585.56 L1038.33,585.53 L1039.48,585.51 L1040.63,585.49 L1041.77,585.47 L1042.92,585.46 L1044.06,585.45 L1045.21,585.45 L1046.36,585.45 L1047.50,585.46 L1048.65,585.47 L1049.79,585.48 L1050.94,585.50 L1052.08,585.52 L1053.23,585.55 L1054.38,585.58 L1055.52,585.61 L1056.67,585.65 L1057.81,585.69 L1058.96,585.74 L1060.11,585.79 L1061.25,585.84 L1062.40,585.90 L1063.54,585.96 L1064.69,586.03 L1065.84,586.10 L1066.98,586.17 L1068.13,586.24 L1069.27,586.32 L1070.42,586.40 L1071.57,586.49 L1072.71,586.58 L1073.86,586.67 L1075.00,586.76 L1076.15,586.86 L1077.29,586.96 L1078.44,587.07 L1079.59,587.18 L1080.73,587.29 L1081.88,587.40 L1083.02,587.51 L1084.17,587.63 L1085.32,587.75 L1086.46,587.88 L1087.61,588.01 L1088.75,588.14 L1089.90,588.27 L1091.05,588.40 L1092.19,588.54 L1093.34,588.68 L1094.48,588.82 L1095.63,588.96 L1096.77,589.11 L1097.92,589.26 L1099.07,589.41 L1100.21,589.56 L1101.36,589.72 L1102.50,589.87 L1103.65,590.03 L1104.80,590.19 L1105.94,590.36 L1107.09,590.52 L1108.23,590.69 L1109.38,590.85 L1110.53,591.02 L1111.67,591.20 L1112.82,591.37 L1113.96,591.54 L1115.11,591.72 L1116.25,591.90 L1117.40,592.08 L1118.55,592.26 L1119.69,592.44 L1120.84,592.62 L1121.98,592.81 L1123.13,592.99 L1124.28,593.18 L1125.42,593.37 L1126.57,593.56 L1127.71,593.75 L1128.86,593.94 L1130.01,594.13 L1131.15,594.32 L1132.30,594.52 L1133.44,594.71 L1134.59,594.91 L1135.73,595.10 L1136.88,595.30 L1138.03,595.50 L1139.17,595.70 L1140.32,595.90 L1141.46,596.10 L1142.61,596.30 L1143.76,596.50 L1144.90,596.70 L1146.05,596.90 L1147.19,597.10 L1148.34,597.30 L1149.49,597.51 L1150.63,597.71 L1151.78,597.91 L1152.92,598.11 L1154.07,598.32 L1155.22,598.52 L1156.36,598.73 L1157.51,598.93 L1158.65,599.13 L1159.80,599.34 L1160.94,599.54 L1162.09,599.74 L1163.24,599.95 L1164.38,600.15 L1165.53,600.35 L1166.67,600.56 L1167.82,600.76 L1168.97,600.96 L1170.11,601.16 L1171.26,601.37 L1172.40,601.57 L1173.55,601.77 L1174.70,601.97 L1175.84,602.17 L1176.99,602.37 L1178.13,602.57 L1179.28,602.77 L1180.42,602.97 L1181.57,603.16 L1182.72,603.36 L1183.86,603.56 L1185.01,603.75 L1186.15,603.95 L1187.30,604.14 L1188.45,604.33 L1189.59,604.53 L1190.74,604.72 L1191.88,604.91 L1193.03,605.10 L1194.18,605.29 L1195.32,605.48 L1196.47,605.66 L1197.61,605.85 L1198.76,606.03 L1199.90,606.22 L1201.05,606.40 L1202.20,606.58 L1203.34,606.77 L1204.49,606.95 L1205.63,607.12 L1206.78,607.30 L1207.93,607.48 L1209.07,607.65 L1210.22,607.83 L1211.36,608.00 L1212.51,608.17 L1213.66,608.34 L1214.80,608.51 L1215.95,608.68 L1217.09,608.85 L1218.24,609.01 L1219.38,609.18 L1220.53,609.34 L1221.68,609.50 L1222.82,609.66 L1223.97,609.82 L1225.11,609.98 L1226.26,610.13 L1227.41,610.28 L1228.55,610.44 L1229.70,610.59 L1230.84,610.74 L1231.99,610.89 L1233.14,611.03 L1234.28,611.18 L1235.43,611.32 L1236.57,611.46 L1237.72,611.60 L1238.87,611.74 L1240.01,611.88 L1241.16,612.01 L1242.30,612.15 L1243.45,612.28 L1244.59,612.41 L1245.74,612.54 L1246.89,612.67 L1248.03,612.79 L1249.18,612.92 L1250.32,613.04 L1251.47,613.16 L1252.62,613.28 L1253.76,613.40 L1254.91,613.51 L1256.05,613.63 L1257.20,613.74 L1258.35,613.85 L1259.49,613.96 L1260.64,614.06 L1261.78,614.17 L1262.93,614.27 L1264.07,614.37 L1265.22,614.47 L1266.37,614.57 L1267.51,614.67 L1268.66,614.76 L1269.80,614.85 L1270.95,614.95 L1272.10,615.04 L1273.24,615.12 L1274.39,615.21 L1275.53,615.29 L1276.68,615.37 L1277.83,615.45 L1278.97,615.53 L1280.12,615.61 L1281.26,615.68 L1282.41,615.76 L1283.55,615.83 L1284.70,615.90 L1285.85,615.97 L1286.99,616.03 L1288.14,616.10 L1289.28,616.16 L1290.43,616.22 L1291.58,616.28 L1292.72,616.34 L1293.87,616.39 L1295.01,616.45 L1296.16,616.50 L1297.31,616.55 L1298.45,616.60 L1299.60,616.64 L1300.74,616.69 L1301.89,616.73 L1303.03,616.77 L1304.18,616.81 L1305.33,616.85 L1306.47,616.89 L1307.62,616.92 L1308.76,616.95 L1309.91,616.99 L1311.06,617.02 L1312.20,617.04 L1313.35,617.07 L1314.49,617.09 L1315.64,617.12 L1316.79,617.14 L1317.93,617.16 L1319.08,617.18 L1320.22,617.19 L1321.37,617.21 L1322.52,617.22 L1323.66,617.23 L1324.81,617.24 L1325.95,617.25 L1327.10,617.26 L1328.24,617.26 L1329.39,617.27 L1330.54,617.27 L1331.68,617.27 L1332.83,617.27 L1333.97,617.27 L1335.12,617.27 L1336.27,617.26 L1337.41,617.26 L1338.56,617.25 L1339.70,617.24 L1340.85,617.23 L1342.00,617.22 L1343.14,617.20 L1344.29,617.19 L1345.43,617.17 L1346.58,617.15 L1347.72,617.14 L1348.87,617.12 L1350.02,617.09 L1351.16,617.07 L1352.31,617.05 L1353.45,617.02 L1354.60,617.00 L1355.75,616.97 L1356.89,616.94 L1358.04,616.91 L1359.18,616.88 L1360.33,616.85 L1361.48,616.81 L1362.62,616.78 L1363.77,616.74 L1364.91,616.71 L1366.06,616.67 L1367.20,616.63 L1368.35,616.59 L1369.50,616.55 L1370.64,616.50 L1371.79,616.46 L1372.93,616.42 L1374.08,616.37 L1375.23,616.33 L1376.37,616.28 L1377.52,616.23 L1378.66,616.18 L1379.81,616.13 L1380.96,616.08 L1382.10,616.03 L1383.25,615.98 L1384.39,615.92 L1385.54,615.87 L1386.68,615.81 L1387.83,615.76 L1388.98,615.70 L1390.12,615.64 L1391.27,615.59 L1392.41,615.53 L1393.56,615.47 L1394.71,615.41 L1395.85,615.35 L1397.00,615.29 L1398.14,615.22 L1399.29,615.16 L1400.44,615.10 L1401.58,615.03 L1402.73,614.97 L1403.87,614.90 L1405.02,614.84 L1406.17,614.77 L1407.31,614.71 L1408.46,614.64 L1409.60,614.57 L1410.75,614.50 L1411.89,614.43 L1413.04,614.37 L1414.19,614.30 L1415.33,614.23 L1416.48,614.16 L1417.62,614.09 L1418.77,614.01 L1419.92,613.94 L1421.06,613.87 L1422.21,613.80 L1423.35,613.73 L1424.50,613.66 L1425.65,613.58 L1426.79,613.51 L1427.94,613.44 L1429.08,613.36 L1430.23,613.29 L1431.37,613.22 L1432.52,613.14 L1433.67,613.07 L1434.81,613.00 L1435.96,612.92 L1437.10,612.85 L1438.25,612.77 L1439.40,612.70 L1440.54,612.62 L1441.69,612.55 L1442.83,612.47 L1443.98,612.40 L1445.13,612.32 L1446.27,612.25 L1447.42,612.18 L1448.56,612.10 L1449.71,612.03 L1450.85,611.95 L1452.00,611.88 L1453.15,611.80 L1454.29,611.73 L1455.44,611.66 L1456.58,611.58 L1457.73,611.51 L1458.88,611.43 L1460.02,611.36 L1461.17,611.29 L1462.31,611.21 L1463.46,611.14 L1464.61,611.07 L1465.75,611.00 L1466.90,610.92 L1468.04,610.85 L1469.19,610.78 L1470.33,610.71 L1471.48,610.64 L1472.63,610.57 L1473.77,610.50 L1474.92,610.43 L1476.06,610.36 L1477.21,610.29 L1478.36,610.22 L1479.50,610.15 L1480.65,610.08 L1481.79,610.01 L1482.94,609.94 L1484.09,609.88 L1485.23,609.81 L1486.38,609.74 L1487.52,609.68 L1488.67,609.61 L1489.82,609.55 L1490.96,609.48 L1492.11,609.42 L1493.25,609.35 L1494.40,609.29 L1495.54,609.23 L1496.69,609.16 L1497.84,609.10 L1498.98,609.04 L1500.13,608.98 L1501.27,608.92 L1502.42,608.86 L1503.57,608.80 L1504.71,608.74 L1505.86,608.68 L1507.00,608.62 L1508.15,608.57 L1509.30,608.51 L1510.44,608.45 L1511.59,608.40 L1512.73,608.34 L1513.88,608.29 L1515.02,608.23 L1516.17,608.18 L1517.32,608.13 L1518.46,608.08 L1519.61,608.02 L1520.75,607.97 L1521.90,607.92 L1523.05,607.87 L1524.19,607.82 L1525.34,607.78 L1526.48,607.73 L1527.63,607.68 L1528.78,607.63 L1529.92,607.59 L1531.07,607.54 L1532.21,607.50 L1533.36,607.45 L1534.50,607.41 L1535.65,607.37 L1536.80,607.33 L1537.94,607.28 L1539.09,607.24 L1540.23,607.20 L1541.38,607.16 L1542.53,607.12 L1543.67,607.09 L1544.82,607.05 L1545.96,607.01 L1547.11,606.97 L1548.26,606.94 L1549.40,606.90 L1550.55,606.87 L1551.69,606.84 L1552.84,606.80 L1553.98,606.77 L1555.13,606.74 L1556.28,606.71 L1557.42,606.68 L1558.57,606.65 L1559.71,606.62 L1560.86,606.59 L1562.01,606.56 L1563.15,606.54 L1564.30,606.51 L1565.44,606.48 L1566.59,606.46 L1567.74,606.44 L1568.88,606.41 L1570.03,606.39 L1571.17,606.37 L1572.32,606.34 L1573.47,606.32 L1574.61,606.30 L1575.76,606.28 L1576.90,606.26 L1578.05,606.25 L1579.19,606.23 L1580.34,606.21 L1581.49,606.19 L1582.63,606.18 L1583.78,606.16 L1584.92,606.15 L1586.07,606.13 L1587.22,606.12 L1588.36,606.11 L1589.51,606.10 L1590.65,606.08 L1591.80,606.07 L1592.95,606.06 L1594.09,606.05 L1595.24,606.04 L1596.38,606.03 L1597.53,606.03 L1598.67,606.02 L1599.82,606.01 L1600.97,606.01 L1602.11,606.00 L1603.26,606.00 L1604.40,605.99 L1605.55,605.99 L1606.70,605.98 L1607.84,605.98 L1608.99,605.98 L1610.13,605.98 L1611.28,605.97 L1612.43,605.97 L1613.57,605.97 L1614.72,605.97 L1615.86,605.98 L1617.01,605.98 L1618.15,605.98 L1619.30,605.98 L1620.45,605.98 L1621.59,605.99 L1622.74,605.99 L1623.88,606.00 L1625.03,606.00 L1626.18,606.01 L1627.32,606.01 L1628.47,606.02 L1629.61,606.03 L1630.76,606.03 L1631.91,606.04 L1633.05,606.05 L1634.20,606.06 L1635.34,606.07 L1636.49,606.08 L1637.63,606.09 L1638.78,606.10 L1639.93,606.11 L1641.07,606.12 L1642.22,606.13 L1643.36,606.14 L1644.51,606.15 L1645.66,606.17 L1646.80,606.18 L1647.95,606.19 L1649.09,606.21 L1650.24,606.22 L1651.39,606.24 L1652.53,606.25 L1653.68,606.27 L1654.82,606.28 L1655.97,606.30 L1657.12,606.31 L1658.26,606.33 L1659.41,606.35 L1660.55,606.37 L1661.70,606.38 L1662.84,606.40 L1663.99,606.42 L1665.14,606.44 L1666.28,606.46 L1667.43,606.48 L1668.57,606.49 L1669.72,606.51 L1670.87,606.53 L1672.01,606.55 L1673.16,606.57 L1674.30,606.60 L1675.45,606.62 L1676.60,606.64 L1677.74,606.66 L1678.89,606.68 L1680.03,606.70 L1681.18,606.72 L1682.32,606.75 L1683.47,606.77 L1684.62,606.79 L1685.76,606.81 L1686.91,606.84 L1688.05,606.86 L1689.20,606.88 L1690.35,606.91 L1691.49,606.93 L1692.64,606.95 L1693.78,606.98 L1694.93,607.00 L1696.08,607.03 L1697.22,607.05 L1698.37,607.07 L1699.51,607.10 L1700.66,607.12 L1701.80,607.15 L1702.95,607.17 L1704.10,607.20 L1705.24,607.22 L1706.39,607.25 L1707.53,607.27 L1708.68,607.30 L1709.83,607.33 L1710.97,607.35 L1712.12,607.38 L1713.26,607.40 L1714.41,607.43 L1715.56,607.45 L1716.70,607.48 L1717.85,607.50 L1718.99,607.53 L1720.14,607.56 L1721.28,607.58 L1722.43,607.61 L1723.58,607.63 L1724.72,607.66 L1725.87,607.69 L1727.01,607.71 L1728.16,607.74 L1729.31,607.76 L1730.45,607.79 L1731.60,607.82 L1732.74,607.84 L1733.89,607.87 L1735.04,607.89 L1736.18,607.92 L1737.33,607.94 L1738.47,607.97 L1739.62,608.00 L1740.77,608.02 L1741.91,608.05 L1743.06,608.07 L1744.20,608.10 L1745.35,608.12 L1746.49,608.15 L1747.64,608.17 L1748.79,608.20 L1749.93,608.22 L1751.08,608.25 L1752.22,608.27 L1753.37,608.30 L1754.52,608.32 L1755.66,608.35 L1756.81,608.37 L1757.95,608.40 L1759.10,608.42 L1760.25,608.44 L1761.39,608.47 L1762.54,608.49 L1763.68,608.52 L1764.83,608.54 L1765.97,608.56 L1767.12,608.59 L1768.27,608.61 L1769.41,608.63 L1770.56,608.66 L1771.70,608.68 L1772.85,608.70 L1774.00,608.72 L1775.14,608.75 L1776.29,608.77 L1777.43,608.79 L1778.58,608.81 L1779.73,608.83 L1780.87,608.86 L1782.02,608.88 L1783.16,608.90 L1784.31,608.92 L1785.45,608.94 L1786.60,608.96 L1787.75,608.98 L1788.89,609.00 L1790.04,609.02 L1791.18,609.04 L1792.33,609.06 L1793.48,609.08 L1794.62,609.10 L1795.77,609.12 L1796.91,609.14 L1798.06,609.16 L1799.21,609.17 L1800.35,609.19 L1801.50,609.21 L1802.64,609.23 L1803.79,609.25 L1804.93,609.26 L1806.08,609.28 L1807.23,609.30 L1808.37,609.32 L1809.52,609.33 L1810.66,609.35 L1811.81,609.36 L1812.96,609.38 L1814.10,609.40 L1815.25,609.41 L1816.39,609.43 L1817.54,609.44 L1818.69,609.46 L1819.83,609.47 L1820.98,609.49 L1822.12,609.50 L1823.27,609.51 L1824.42,609.53 L1825.56,609.54 L1826.71,609.56 L1827.85,609.57 L1829.00,609.58 L1830.14,609.59 L1831.29,609.61 L1832.44,609.62 L1833.58,609.63 L1834.73,609.64 L1835.87,609.65 L1837.02,609.67 L1838.17,609.68 L1839.31,609.69 L1840.46,609.70 L1841.60,609.71 L1842.75,609.72 L1843.90,609.73 L1845.04,609.74 L1846.19,609.75 L1847.33,609.76 L1848.48,609.77 L1849.62,609.77 L1850.77,609.78 L1851.92,609.79 L1853.06,609.80 L1854.21,609.81 L1855.35,609.81 L1856.50,609.82"/>
</g>
<text transform="translate(168.87,1481.20) scale(0.9750,1.0350)" font-size="51.40px" fill="#262626" letter-spacing="0.733" stroke="#262626" stroke-width="0.35" stroke-linejoin="round">0</text>
<text transform="translate(370.96,1481.20) scale(0.9750,1.0350)" font-size="51.40px" fill="#262626" letter-spacing="0.733" stroke="#262626" stroke-width="0.35" stroke-linejoin="round">1<tspan dx="-1.54">00</tspan></text>
<text transform="translate(598.64,1481.20) scale(0.9750,1.0350)" font-size="51.40px" fill="#262626" letter-spacing="0.733" stroke="#262626" stroke-width="0.35" stroke-linejoin="round">200</text>
<text transform="translate(827.81,1481.20) scale(0.9750,1.0350)" font-size="51.40px" fill="#262626" letter-spacing="0.733" stroke="#262626" stroke-width="0.35" stroke-linejoin="round">300</text>
<text transform="translate(1056.99,1481.20) scale(0.9750,1.0350)" font-size="51.40px" fill="#262626" letter-spacing="0.733" stroke="#262626" stroke-width="0.35" stroke-linejoin="round">400</text>
<text transform="translate(1286.17,1481.20) scale(0.9750,1.0350)" font-size="51.40px" fill="#262626" letter-spacing="0.733" stroke="#262626" stroke-width="0.35" stroke-linejoin="round">500</text>
<text transform="translate(1515.35,1481.20) scale(0.9750,1.0350)" font-size="51.40px" fill="#262626" letter-spacing="0.733" stroke="#262626" stroke-width="0.35" stroke-linejoin="round">600</text>
<text transform="translate(1744.53,1481.20) scale(0.9750,1.0350)" font-size="51.40px" fill="#262626" letter-spacing="0.733" stroke="#262626" stroke-width="0.35" stroke-linejoin="round">700</text>
<text transform="translate(131.67,1427.80) scale(0.9750,1.0350)" font-size="51.40px" fill="#262626" letter-spacing="0.733" stroke="#262626" stroke-width="0.35" stroke-linejoin="round">0</text>
<text transform="translate(88.45,1295.95) scale(0.9750,1.0350)" font-size="51.40px" fill="#262626" letter-spacing="0.733" stroke="#262626" stroke-width="0.35" stroke-linejoin="round">0.<tspan dx="1.54">1</tspan></text>
<text transform="translate(88.45,1164.10) scale(0.9750,1.0350)" font-size="51.40px" fill="#262626" letter-spacing="0.733" stroke="#262626" stroke-width="0.35" stroke-linejoin="round">0.2</text>
<text transform="translate(88.45,1032.25) scale(0.9750,1.0350)" font-size="51.40px" fill="#262626" letter-spacing="0.733" stroke="#262626" stroke-width="0.35" stroke-linejoin="round">0.3</text>
<text transform="translate(88.45,900.40) scale(0.9750,1.0350)" font-size="51.40px" fill="#262626" letter-spacing="0.733" stroke="#262626" stroke-width="0.35" stroke-linejoin="round">0.4</text>
<text transform="translate(88.45,768.55) scale(0.9750,1.0350)" font-size="51.40px" fill="#262626" letter-spacing="0.733" stroke="#262626" stroke-width="0.35" stroke-linejoin="round">0.5</text>
<text transform="translate(88.45,636.70) scale(0.9750,1.0350)" font-size="51.40px" fill="#262626" letter-spacing="0.733" stroke="#262626" stroke-width="0.35" stroke-linejoin="round">0.6</text>
<text transform="translate(88.45,504.85) scale(0.9750,1.0350)" font-size="51.40px" fill="#262626" letter-spacing="0.733" stroke="#262626" stroke-width="0.35" stroke-linejoin="round">0.7</text>
<text transform="translate(88.45,373.00) scale(0.9750,1.0350)" font-size="51.40px" fill="#262626" letter-spacing="0.733" stroke="#262626" stroke-width="0.35" stroke-linejoin="round">0.8</text>
<text transform="translate(88.45,241.15) scale(0.9750,1.0350)" font-size="51.40px" fill="#262626" letter-spacing="0.733" stroke="#262626" stroke-width="0.35" stroke-linejoin="round">0.9</text>
<text transform="translate(133.17,109.30) scale(0.9750,1.0350)" font-size="51.40px" fill="#262626" letter-spacing="0.733" stroke="#262626" stroke-width="0.35" stroke-linejoin="round">1</text>
<rect x="373.13" y="1475.74" width="10.25" height="6.94" fill="#fff"/>
<rect x="388.17" y="1475.74" width="9.86" height="6.94" fill="#fff"/>
<rect x="135.34" y="1290.49" width="10.25" height="6.94" fill="#fff"/>
<rect x="150.39" y="1290.49" width="9.86" height="6.94" fill="#fff"/>
<rect x="135.34" y="103.84" width="10.25" height="6.94" fill="#fff"/>
<rect x="150.39" y="103.84" width="9.86" height="6.94" fill="#fff"/>
<text transform="translate(1019.20,1555.70) scale(1.0030,0.9860)" font-size="56.50px" fill="#262626" text-anchor="middle" xml:space="preserve" style="white-space:pre">time  (days)</text>
<text transform="translate(58.10,749.60) rotate(-90) scale(1.0000,0.9860)" font-size="56.50px" fill="#262626" text-anchor="middle">subpopulation</text>
<text transform="translate(1019.50,65.30) scale(1.0020,1.0000)" font-size="56.50px" fill="#000" text-anchor="middle" font-weight="bold">CSIR model</text>
<rect x="1360.15" y="129.55" width="455.65" height="206.05" fill="#fff" stroke="#262626" stroke-width="2.60"/>
<line x1="1375.30" x2="1530.20" y1="168.30" y2="168.30" stroke="#0000ff" stroke-width="2.60"/>
<text transform="translate(1567.20,187.00) scale(0.9910,0.9860)" font-size="46.30px" fill="#000">susceptible</text>
<line x1="1375.30" x2="1530.20" y1="232.50" y2="232.50" stroke="#ff0000" stroke-width="2.60"/>
<text transform="translate(1567.20,251.20) scale(0.9910,0.9860)" font-size="46.30px" fill="#000">infected</text>
<line x1="1375.30" x2="1530.20" y1="297.00" y2="297.00" stroke="#00ff00" stroke-width="2.60"/>
<text transform="translate(1567.20,315.70) scale(0.9910,0.9860)" font-size="46.30px" fill="#000">recovered</text>
</svg>
</body></html>
